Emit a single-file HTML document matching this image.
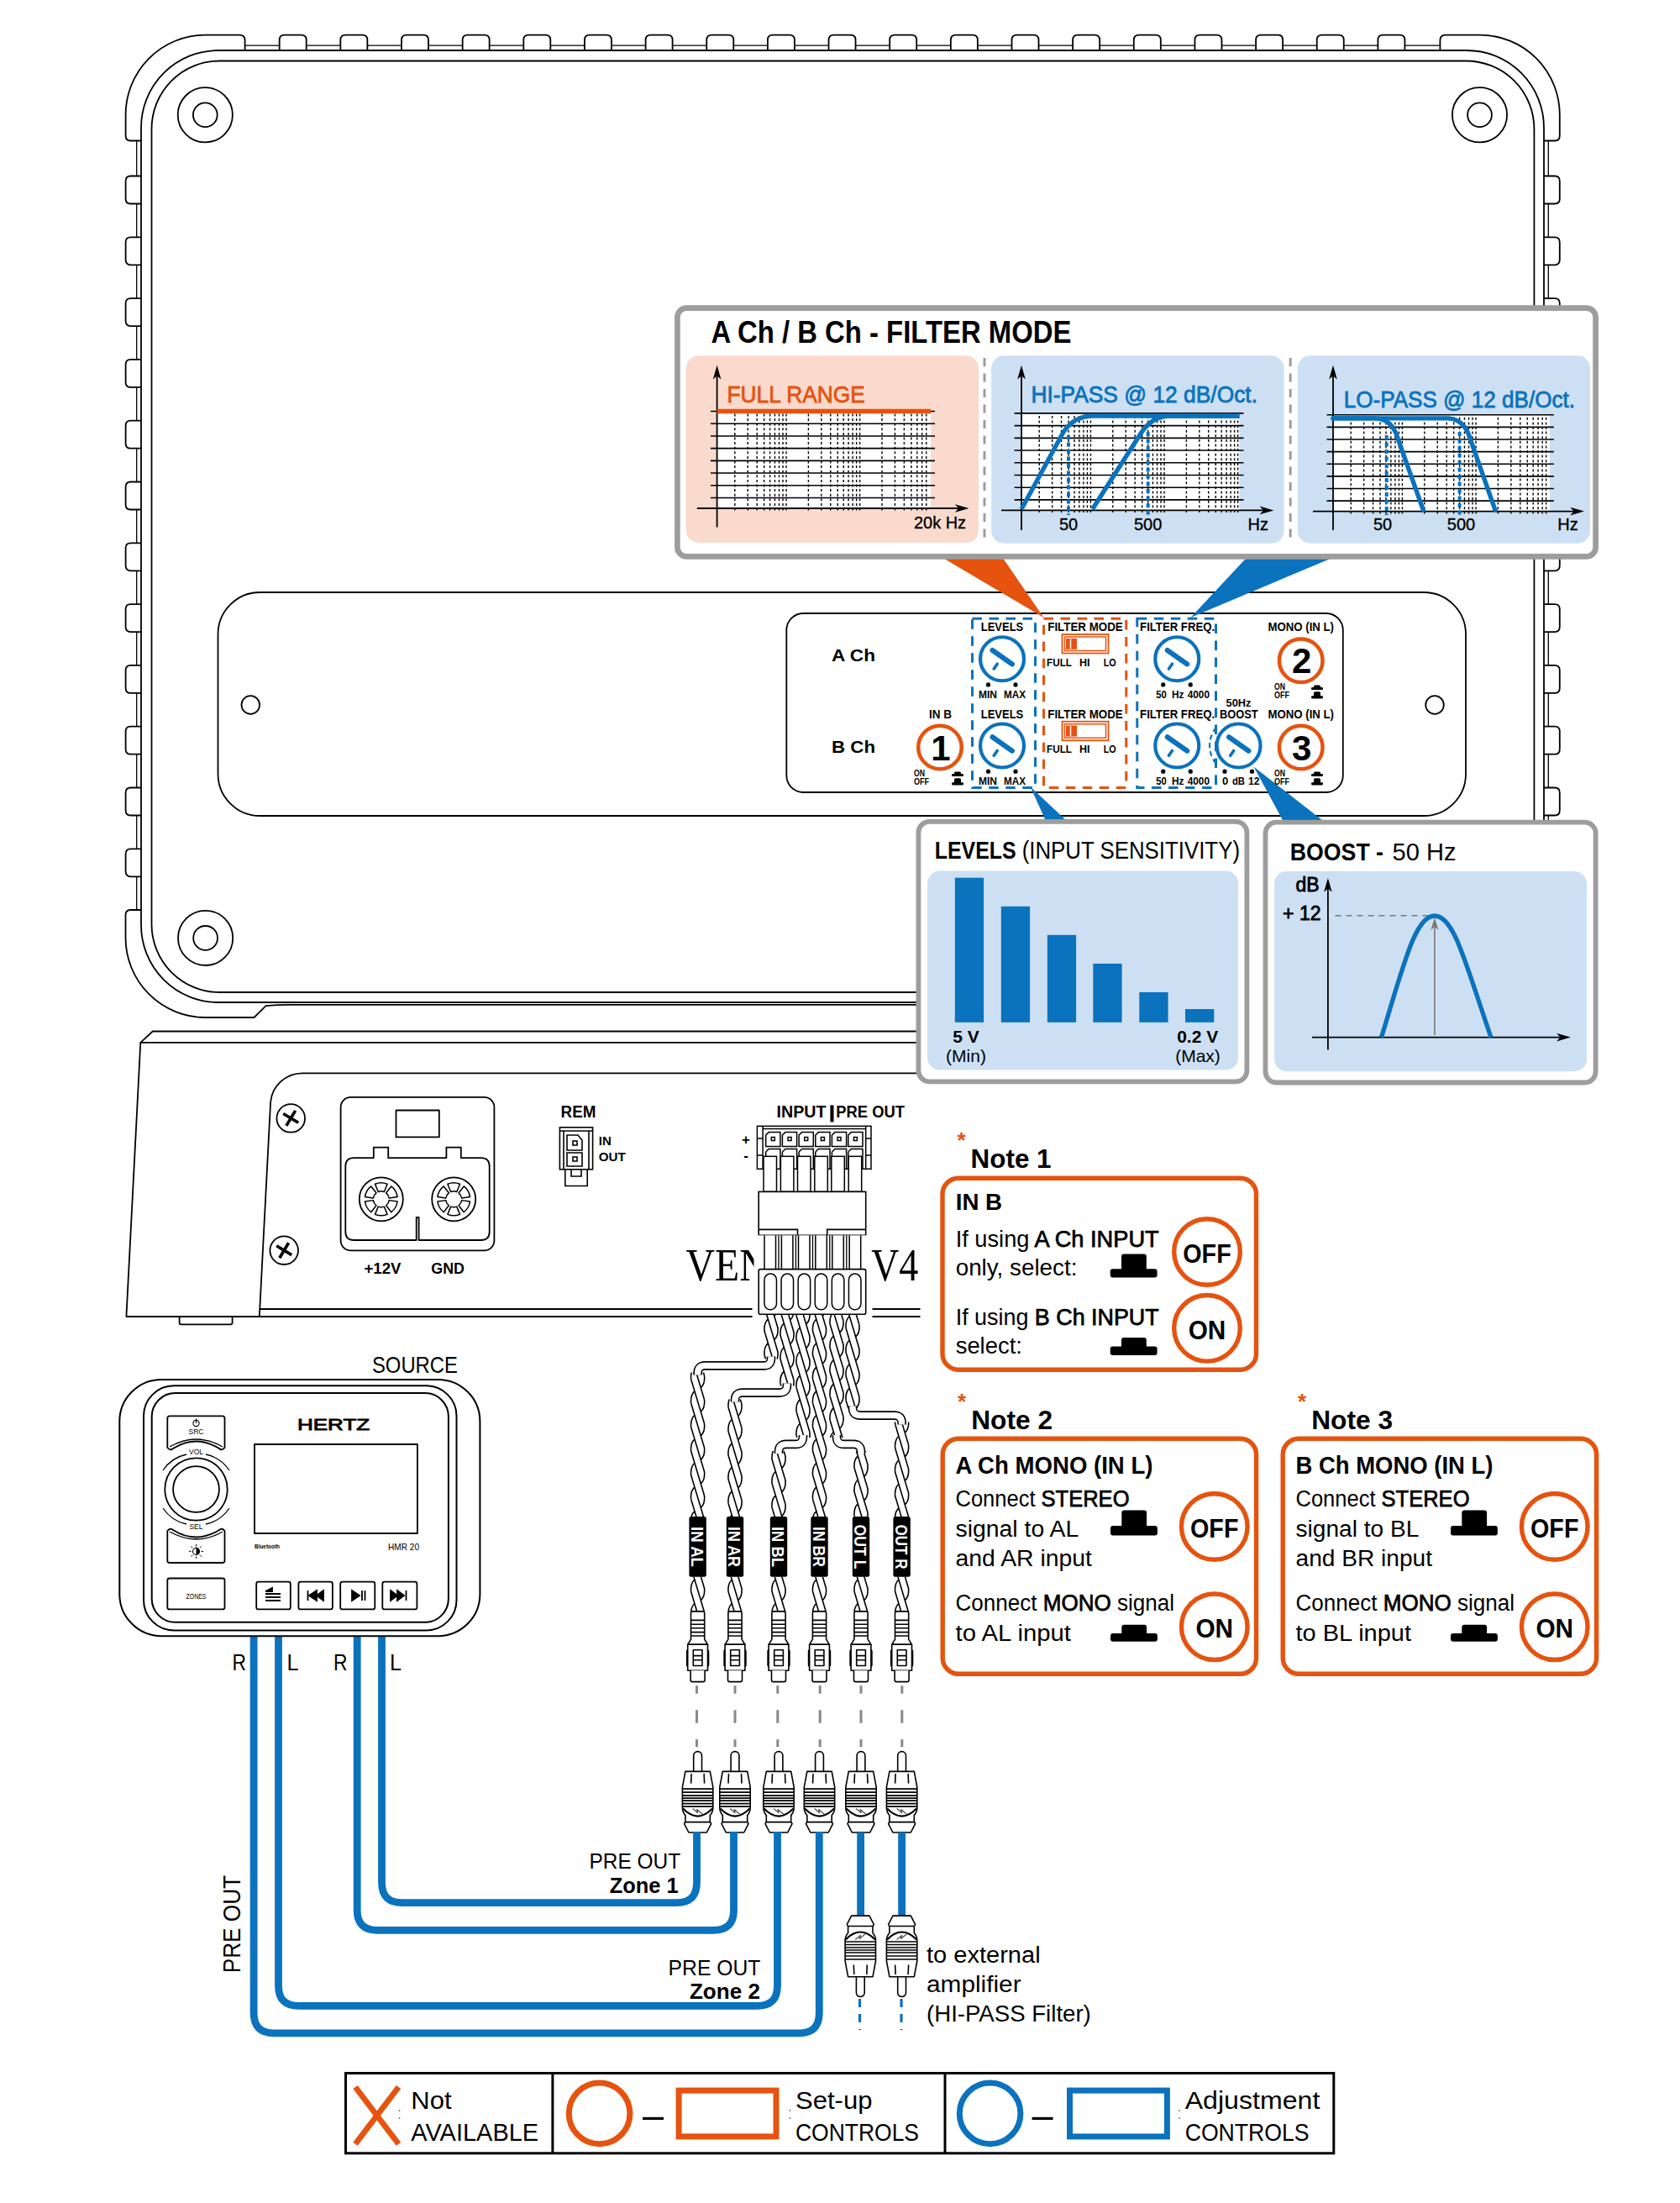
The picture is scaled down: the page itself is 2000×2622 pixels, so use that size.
<!DOCTYPE html><html><head><meta charset="utf-8"><style>html,body{margin:0;padding:0;background:#fff;}svg{display:block;}</style></head><body>
<svg width="2000" height="2622" viewBox="0 0 2000 2622" font-family='"Liberation Sans", sans-serif'>
<rect width="2000" height="2622" fill="#fff"/>
<g fill="none" stroke="#000" stroke-width="1.8" stroke-linejoin="round">
<rect x="180.5" y="72.5" width="1645.9" height="1108.5" rx="81" ry="81"/>
<path d="M168,1101 V152 A92,92 0 0 1 260,60 H1746 A92,92 0 0 1 1838,152 V1101"/>
<path d="M168,1101 A92,92 0 0 0 260,1193 H1746 A92,92 0 0 0 1838,1101"/>
<path d="M291.6,54.1 H332.7 M364.7,54.1 H405.35 M437.35,54.1 H478 M510,54.1 H550.65 M582.65,54.1 H623.3 M655.3,54.1 H695.95 M727.95,54.1 H768.6 M800.6,54.1 H841.25 M873.25,54.1 H913.9 M945.9,54.1 H986.55 M1018.55,54.1 H1059.2 M1091.2,54.1 H1131.85 M1163.85,54.1 H1204.5 M1236.5,54.1 H1277.15 M1309.15,54.1 H1349.8 M1381.8,54.1 H1422.45 M1454.45,54.1 H1495.1 M1527.1,54.1 H1567.75 M1599.75,54.1 H1640.4 M1672.4,54.1 H1714.4 M162.7,167.5 V209.5 M1843.3,167.5 V209.5 M162.7,242.5 V282.3 M1843.3,242.5 V282.3 M162.7,315.3 V355.1 M1843.3,315.3 V355.1 M162.7,388.1 V427.9 M1843.3,388.1 V427.9 M162.7,460.9 V500.7 M1843.3,460.9 V500.7 M162.7,533.7 V573.5 M1843.3,533.7 V573.5 M162.7,606.5 V646.3 M1843.3,606.5 V646.3 M162.7,679.3 V719.1 M1843.3,679.3 V719.1 M162.7,752.1 V791.9 M1843.3,752.1 V791.9 M162.7,824.9 V864.7 M1843.3,824.9 V864.7 M162.7,897.7 V937.5 M1843.3,897.7 V937.5 M162.7,970.5 V1010.3 M1843.3,970.5 V1010.3 M162.7,1043.3 V1083 M1843.3,1043.3 V1083" stroke-width="1.3"/>
</g>
<g fill="none" stroke="#000" stroke-width="1.8" stroke-linejoin="round">
<path d="M332.7,60 V47.5 Q332.7,41.6 338.7,41.6 H358.7 Q364.7,41.6 364.7,47.5 V60"/>
<path d="M405.35,60 V47.5 Q405.35,41.6 411.35,41.6 H431.35 Q437.35,41.6 437.35,47.5 V60"/>
<path d="M478,60 V47.5 Q478,41.6 484,41.6 H504 Q510,41.6 510,47.5 V60"/>
<path d="M550.65,60 V47.5 Q550.65,41.6 556.65,41.6 H576.65 Q582.65,41.6 582.65,47.5 V60"/>
<path d="M623.3,60 V47.5 Q623.3,41.6 629.3,41.6 H649.3 Q655.3,41.6 655.3,47.5 V60"/>
<path d="M695.95,60 V47.5 Q695.95,41.6 701.95,41.6 H721.95 Q727.95,41.6 727.95,47.5 V60"/>
<path d="M768.6,60 V47.5 Q768.6,41.6 774.6,41.6 H794.6 Q800.6,41.6 800.6,47.5 V60"/>
<path d="M841.25,60 V47.5 Q841.25,41.6 847.25,41.6 H867.25 Q873.25,41.6 873.25,47.5 V60"/>
<path d="M913.9,60 V47.5 Q913.9,41.6 919.9,41.6 H939.9 Q945.9,41.6 945.9,47.5 V60"/>
<path d="M986.55,60 V47.5 Q986.55,41.6 992.55,41.6 H1012.55 Q1018.55,41.6 1018.55,47.5 V60"/>
<path d="M1059.2,60 V47.5 Q1059.2,41.6 1065.2,41.6 H1085.2 Q1091.2,41.6 1091.2,47.5 V60"/>
<path d="M1131.85,60 V47.5 Q1131.85,41.6 1137.85,41.6 H1157.85 Q1163.85,41.6 1163.85,47.5 V60"/>
<path d="M1204.5,60 V47.5 Q1204.5,41.6 1210.5,41.6 H1230.5 Q1236.5,41.6 1236.5,47.5 V60"/>
<path d="M1277.15,60 V47.5 Q1277.15,41.6 1283.15,41.6 H1303.15 Q1309.15,41.6 1309.15,47.5 V60"/>
<path d="M1349.8,60 V47.5 Q1349.8,41.6 1355.8,41.6 H1375.8 Q1381.8,41.6 1381.8,47.5 V60"/>
<path d="M1422.45,60 V47.5 Q1422.45,41.6 1428.45,41.6 H1448.45 Q1454.45,41.6 1454.45,47.5 V60"/>
<path d="M1495.1,60 V47.5 Q1495.1,41.6 1501.1,41.6 H1521.1 Q1527.1,41.6 1527.1,47.5 V60"/>
<path d="M1567.75,60 V47.5 Q1567.75,41.6 1573.75,41.6 H1593.75 Q1599.75,41.6 1599.75,47.5 V60"/>
<path d="M1640.4,60 V47.5 Q1640.4,41.6 1646.4,41.6 H1666.4 Q1672.4,41.6 1672.4,47.5 V60"/>
<path d="M168,209.5 H155.5 Q149.6,209.5 149.6,215.5 V236.5 Q149.6,242.5 155.5,242.5 H168"/>
<path d="M1838,209.5 H1851 Q1856.8,209.5 1856.8,215.5 V236.5 Q1856.8,242.5 1851,242.5 H1838"/>
<path d="M168,282.3 H155.5 Q149.6,282.3 149.6,288.3 V309.3 Q149.6,315.3 155.5,315.3 H168"/>
<path d="M1838,282.3 H1851 Q1856.8,282.3 1856.8,288.3 V309.3 Q1856.8,315.3 1851,315.3 H1838"/>
<path d="M168,355.1 H155.5 Q149.6,355.1 149.6,361.1 V382.1 Q149.6,388.1 155.5,388.1 H168"/>
<path d="M1838,355.1 H1851 Q1856.8,355.1 1856.8,361.1 V382.1 Q1856.8,388.1 1851,388.1 H1838"/>
<path d="M168,427.9 H155.5 Q149.6,427.9 149.6,433.9 V454.9 Q149.6,460.9 155.5,460.9 H168"/>
<path d="M1838,427.9 H1851 Q1856.8,427.9 1856.8,433.9 V454.9 Q1856.8,460.9 1851,460.9 H1838"/>
<path d="M168,500.7 H155.5 Q149.6,500.7 149.6,506.7 V527.7 Q149.6,533.7 155.5,533.7 H168"/>
<path d="M1838,500.7 H1851 Q1856.8,500.7 1856.8,506.7 V527.7 Q1856.8,533.7 1851,533.7 H1838"/>
<path d="M168,573.5 H155.5 Q149.6,573.5 149.6,579.5 V600.5 Q149.6,606.5 155.5,606.5 H168"/>
<path d="M1838,573.5 H1851 Q1856.8,573.5 1856.8,579.5 V600.5 Q1856.8,606.5 1851,606.5 H1838"/>
<path d="M168,646.3 H155.5 Q149.6,646.3 149.6,652.3 V673.3 Q149.6,679.3 155.5,679.3 H168"/>
<path d="M1838,646.3 H1851 Q1856.8,646.3 1856.8,652.3 V673.3 Q1856.8,679.3 1851,679.3 H1838"/>
<path d="M168,719.1 H155.5 Q149.6,719.1 149.6,725.1 V746.1 Q149.6,752.1 155.5,752.1 H168"/>
<path d="M1838,719.1 H1851 Q1856.8,719.1 1856.8,725.1 V746.1 Q1856.8,752.1 1851,752.1 H1838"/>
<path d="M168,791.9 H155.5 Q149.6,791.9 149.6,797.9 V818.9 Q149.6,824.9 155.5,824.9 H168"/>
<path d="M1838,791.9 H1851 Q1856.8,791.9 1856.8,797.9 V818.9 Q1856.8,824.9 1851,824.9 H1838"/>
<path d="M168,864.7 H155.5 Q149.6,864.7 149.6,870.7 V891.7 Q149.6,897.7 155.5,897.7 H168"/>
<path d="M1838,864.7 H1851 Q1856.8,864.7 1856.8,870.7 V891.7 Q1856.8,897.7 1851,897.7 H1838"/>
<path d="M168,937.5 H155.5 Q149.6,937.5 149.6,943.5 V964.5 Q149.6,970.5 155.5,970.5 H168"/>
<path d="M1838,937.5 H1851 Q1856.8,937.5 1856.8,943.5 V964.5 Q1856.8,970.5 1851,970.5 H1838"/>
<path d="M168,1010.3 H155.5 Q149.6,1010.3 149.6,1016.3 V1037.3 Q149.6,1043.3 155.5,1043.3 H168"/>
<path d="M1838,1010.3 H1851 Q1856.8,1010.3 1856.8,1016.3 V1037.3 Q1856.8,1043.3 1851,1043.3 H1838"/>
<path d="M291.6,60 V48 Q291.6,41.6 285,41.6 H244 A95,95 0 0 0 149.6,137 V161.5 Q149.6,167.5 155.5,167.5 H168"/>
<path d="M1714.4,60 V48 Q1714.4,41.6 1721,41.6 H1762 A95,95 0 0 1 1856.8,137 V161.5 Q1856.8,167.5 1851,167.5 H1838"/>
</g>
<g fill="none" stroke="#000" stroke-width="1.8" stroke-linejoin="round">
<path d="M168,1083 H155.5 Q149.5,1083 149.5,1089 V1116 A95,95 0 0 0 244.5,1211 H302.5 L316.5,1197.2 Q330,1195.8 345,1195.8 H1746"/>
<path d="M1838,1083 H1851 Q1857,1083 1857,1089 V1116 A95,95 0 0 1 1762,1211 H1703.5 L1689.5,1197.2 Q1676,1195.8 1661,1195.8 H1300"/>
</g>
<circle cx="244.3" cy="136.8" r="32.6" fill="none" stroke="#000" stroke-width="1.8"/>
<circle cx="244.3" cy="136.8" r="14.4" fill="none" stroke="#000" stroke-width="1.8"/>
<circle cx="1761.5" cy="136.8" r="32.6" fill="none" stroke="#000" stroke-width="1.8"/>
<circle cx="1761.5" cy="136.8" r="14.4" fill="none" stroke="#000" stroke-width="1.8"/>
<circle cx="244.6" cy="1116.4" r="32.6" fill="none" stroke="#000" stroke-width="1.8"/>
<circle cx="244.6" cy="1116.4" r="14.4" fill="none" stroke="#000" stroke-width="1.8"/>
<rect x="259.5" y="705" width="1485.5" height="266" rx="50" ry="50" fill="none" stroke="#000" stroke-width="1.8"/>
<circle cx="298.3" cy="839" r="10.8" fill="none" stroke="#000" stroke-width="1.8"/>
<circle cx="1708" cy="839" r="10.8" fill="none" stroke="#000" stroke-width="1.8"/>
<rect x="936.3" y="730" width="662.5" height="213" rx="20" ry="20" fill="none" stroke="#000" stroke-width="1.8"/>
<g fill="none" stroke="#000" stroke-width="1.8" stroke-linejoin="round">
<path d="M1096,1227.5 H181.8 L167.3,1240.8 H1096"/>
<path d="M167.3,1240.8 L150.4,1567 H895.5 M1038.5,1567 H1095.5"/>
<path d="M213.6,1567 V1574 Q213.6,1576.4 216,1576.4 H274.2 Q276.6,1576.4 276.6,1574 V1567"/>
<path d="M1096,1277.3 H360 A38,38 0 0 0 322.1,1311.8 L308.8,1567 M309.2,1558 H895.5 M1038.5,1558 H1095.5"/>
</g>
<circle cx="346.25" cy="1330.9" r="16.8" fill="#fff" stroke="#000" stroke-width="1.8"/>
<g transform="translate(346.25,1330.9) rotate(31)"><path d="M-10.5,0 H10.5 M0,-10.5 V10.5" stroke="#000" stroke-width="3.6"/></g>
<circle cx="338.2" cy="1488.2" r="16.8" fill="#fff" stroke="#000" stroke-width="1.8"/>
<g transform="translate(338.2,1488.2) rotate(31)"><path d="M-10.5,0 H10.5 M0,-10.5 V10.5" stroke="#000" stroke-width="3.6"/></g>
<g fill="none" stroke="#000" stroke-width="1.8" stroke-linejoin="round">
<rect x="405.6" y="1305.9" width="182.8" height="182.5" rx="12" ry="12"/>
<rect x="471.5" y="1321.5" width="51.3" height="31.9"/>
<path d="M444.8,1378.2 V1365.6 H462.2 V1378.2 H531.4 V1365.6 H548.8 V1378.2 H572.7 Q582.7,1378.2 582.7,1388.2 V1466 Q582.7,1476 572.7,1476 H498.6 V1448.8 H495.7 V1476 H421.3 Q411.3,1476 411.3,1466 V1388.2 Q411.3,1378.2 421.3,1378.2 Z"/>
<circle cx="453.8" cy="1427.3" r="26"/>
<path d="M473.11,1430.01 A19.5,19.5 0 0 1 465.81,1442.67 L459.65,1434.79 A9.5,9.5 0 0 0 463.21,1428.62 Z" stroke-width="1.5"/>
<path d="M461.1,1445.38 A19.5,19.5 0 0 1 446.5,1445.38 L450.24,1436.11 A9.5,9.5 0 0 0 457.36,1436.11 Z" stroke-width="1.5"/>
<path d="M441.79,1442.67 A19.5,19.5 0 0 1 434.49,1430.01 L444.39,1428.62 A9.5,9.5 0 0 0 447.95,1434.79 Z" stroke-width="1.5"/>
<path d="M434.49,1424.59 A19.5,19.5 0 0 1 441.79,1411.93 L447.95,1419.81 A9.5,9.5 0 0 0 444.39,1425.98 Z" stroke-width="1.5"/>
<path d="M446.5,1409.22 A19.5,19.5 0 0 1 461.1,1409.22 L457.36,1418.49 A9.5,9.5 0 0 0 450.24,1418.49 Z" stroke-width="1.5"/>
<path d="M465.81,1411.93 A19.5,19.5 0 0 1 473.11,1424.59 L463.21,1425.98 A9.5,9.5 0 0 0 459.65,1419.81 Z" stroke-width="1.5"/>
<circle cx="540.2" cy="1427.3" r="26"/>
<path d="M559.51,1430.01 A19.5,19.5 0 0 1 552.21,1442.67 L546.05,1434.79 A9.5,9.5 0 0 0 549.61,1428.62 Z" stroke-width="1.5"/>
<path d="M547.5,1445.38 A19.5,19.5 0 0 1 532.9,1445.38 L536.64,1436.11 A9.5,9.5 0 0 0 543.76,1436.11 Z" stroke-width="1.5"/>
<path d="M528.19,1442.67 A19.5,19.5 0 0 1 520.89,1430.01 L530.79,1428.62 A9.5,9.5 0 0 0 534.35,1434.79 Z" stroke-width="1.5"/>
<path d="M520.89,1424.59 A19.5,19.5 0 0 1 528.19,1411.93 L534.35,1419.81 A9.5,9.5 0 0 0 530.79,1425.98 Z" stroke-width="1.5"/>
<path d="M532.9,1409.22 A19.5,19.5 0 0 1 547.5,1409.22 L543.76,1418.49 A9.5,9.5 0 0 0 536.64,1418.49 Z" stroke-width="1.5"/>
<path d="M552.21,1411.93 A19.5,19.5 0 0 1 559.51,1424.59 L549.61,1425.98 A9.5,9.5 0 0 0 546.05,1419.81 Z" stroke-width="1.5"/>
</g>
<text x="433.5" y="1515.5" font-size="17.5" font-weight="bold" text-anchor="start" fill="#000" textLength="44" lengthAdjust="spacingAndGlyphs" >+12V</text>
<text x="513.3" y="1515.5" font-size="17.5" font-weight="bold" text-anchor="start" fill="#000" textLength="39.6" lengthAdjust="spacingAndGlyphs" >GND</text>
<text x="667.6" y="1330" font-size="20" font-weight="bold" text-anchor="start" fill="#000" textLength="41.8" lengthAdjust="spacingAndGlyphs" >REM</text>
<g fill="none" stroke="#000" stroke-width="1.6">
<rect x="666.4" y="1341.8" width="39.2" height="50"/>
<path d="M666.4,1346 H705.6 M671,1346 V1391.8 M701,1346 V1391.8"/>
<path d="M675,1351 H688 L693,1357 V1369 H675 Z M675,1372 H693 V1388 H675 Z"/>
<rect x="682" y="1358" width="5" height="5"/><rect x="682" y="1377" width="5" height="5"/>
<path d="M672.8,1391.8 V1411.5 H699.2 V1391.8 M680,1391.8 V1400 H692 V1391.8"/>
</g>
<text x="712.8" y="1362.9" font-size="15" font-weight="bold" text-anchor="start" fill="#000" >IN</text>
<text x="712.8" y="1382" font-size="15" font-weight="bold" text-anchor="start" fill="#000" textLength="32" lengthAdjust="spacingAndGlyphs" >OUT</text>
<text x="816.6" y="1524" font-family="'Liberation Serif', serif" font-size="54" fill="#000" textLength="98" lengthAdjust="spacingAndGlyphs">VEN</text>
<text x="1037.1" y="1524" font-family="'Liberation Serif', serif" font-size="54" fill="#000" textLength="56.3" lengthAdjust="spacingAndGlyphs">V4</text>
<rect x="1482" y="976" width="26" height="318" fill="#fff"/>
<path d="M1122.5,664 L1193.75,664 L1242.5,735 Z" fill="#e5530f"/>
<path d="M1483.75,664 L1586,664 L1417.5,735 Z" fill="#0b72bd"/>
<path d="M1226.7,936.5 L1245,977 L1270,977 Z" fill="#0b72bd"/>
<path d="M1492.5,912.5 L1528,978 L1576.4,978 Z" fill="#0b72bd"/>
<rect x="806.4" y="366.6" width="1093.2" height="295.8" rx="11" ry="11" fill="#fff" stroke="#9d9d9d" stroke-width="6.7"/>
<text x="846.4" y="407.9" font-size="37.7" font-weight="bold" text-anchor="start" fill="#000" textLength="429" lengthAdjust="spacingAndGlyphs" >A Ch / B Ch - FILTER MODE</text>
<rect x="816.7" y="423.3" width="348.3" height="222.7" rx="15" ry="15" fill="#f9dacc"/>
<rect x="1180.2" y="423.3" width="348.4" height="223.4" rx="15" ry="15" fill="#cde0f3"/>
<rect x="1544.8" y="423.3" width="348.2" height="223.4" rx="15" ry="15" fill="#cde0f3"/>
<path d="M1172,426 V646" stroke="#9d9d9d" stroke-width="3" stroke-dasharray="10,8.5"/>
<path d="M1536.2,426 V646" stroke="#9d9d9d" stroke-width="3" stroke-dasharray="10,8.5"/>
<rect x="853.6" y="489.5" width="254.4" height="115.5" fill="#fff"/>
<path d="M874.8,492.5 V608 M890.23,492.5 V608 M901.17,492.5 V608 M909.66,492.5 V608 M916.6,492.5 V608 M922.46,492.5 V608 M927.54,492.5 V608 M932.02,492.5 V608 M936.03,492.5 V608 M962.4,492.5 V608 M977.83,492.5 V608 M988.77,492.5 V608 M997.26,492.5 V608 M1004.2,492.5 V608 M1010.06,492.5 V608 M1015.14,492.5 V608 M1019.62,492.5 V608 M1023.63,492.5 V608 M1050,492.5 V608 M1065.43,492.5 V608 M1076.37,492.5 V608 M1084.86,492.5 V608 M1091.8,492.5 V608 M1097.66,492.5 V608 M1102.74,492.5 V608 " stroke="#000" stroke-width="1.4" stroke-dasharray="3,2.6"/>
<path d="M846,489.5 H1113 M846,504.21 H1113 M846,518.93 H1113 M846,533.64 H1113 M846,548.35 H1113 M846,563.07 H1113 M846,577.78 H1113 M846,592.49 H1113 " stroke="#000" stroke-width="1.6"/>
<path d="M829.8,605 H1143.6 M853.6,627.6 V444.8" stroke="#000" stroke-width="1.8" fill="none"/>
<path d="M853.6,434.8 L858.4,451.5 L853.6,447.3 L848.8,451.5 Z" fill="#000"/>
<path d="M1153.6,605 L1136.9,600.2 L1141.1,605 L1136.9,609.8 Z" fill="#000"/>
<path d="M853.6,489.5 H1108" stroke="#e5530f" stroke-width="5.5"/>
<text x="865.5" y="478.8" font-size="28" stroke="#e5530f" stroke-width="0.8" text-anchor="start" fill="#e5530f" textLength="164.3" lengthAdjust="spacingAndGlyphs" >FULL RANGE</text>
<text x="1088" y="629.3" font-size="20" stroke="#000" stroke-width="0.35" text-anchor="start" fill="#000" textLength="62" lengthAdjust="spacingAndGlyphs" >20k Hz</text>
<rect x="1216" y="491.9" width="259.5" height="115.5" fill="#fff"/>
<path d="M1237.2,494.9 V610.4 M1252.63,494.9 V610.4 M1263.57,494.9 V610.4 M1272.06,494.9 V610.4 M1279,494.9 V610.4 M1284.86,494.9 V610.4 M1289.94,494.9 V610.4 M1294.42,494.9 V610.4 M1298.43,494.9 V610.4 M1324.8,494.9 V610.4 M1340.23,494.9 V610.4 M1351.17,494.9 V610.4 M1359.66,494.9 V610.4 M1366.6,494.9 V610.4 M1372.46,494.9 V610.4 M1377.54,494.9 V610.4 M1382.02,494.9 V610.4 M1386.03,494.9 V610.4 M1412.4,494.9 V610.4 M1427.83,494.9 V610.4 M1438.77,494.9 V610.4 M1447.26,494.9 V610.4 M1454.2,494.9 V610.4 M1460.06,494.9 V610.4 M1465.14,494.9 V610.4 M1469.62,494.9 V610.4 M1473.63,494.9 V610.4 " stroke="#000" stroke-width="1.4" stroke-dasharray="3,2.6"/>
<path d="M1207.6,491.9 H1480.5 M1207.6,506.61 H1480.5 M1207.6,521.33 H1480.5 M1207.6,536.04 H1480.5 M1207.6,550.75 H1480.5 M1207.6,565.47 H1480.5 M1207.6,580.18 H1480.5 M1207.6,594.89 H1480.5 " stroke="#000" stroke-width="1.6"/>
<path d="M1192,607.4 H1506.4 M1216,631 V444.8" stroke="#000" stroke-width="1.8" fill="none"/>
<path d="M1216,434.8 L1220.8,451.5 L1216,447.3 L1211.2,451.5 Z" fill="#000"/>
<path d="M1516.4,607.4 L1499.7,602.6 L1503.9,607.4 L1499.7,612.2 Z" fill="#000"/>
<path d="M1272,518 V613 M1366.7,514 V613" stroke="#0b72bd" stroke-width="4" stroke-dasharray="5,3.5"/>
<path d="M1216,606 L1265,516 Q1276,497 1298,495 H1475.5" fill="none" stroke="#0b72bd" stroke-width="5.3"/>
<path d="M1300.5,606 L1358,516 Q1370,497 1390,495 H1475.5" fill="none" stroke="#0b72bd" stroke-width="5.3"/>
<text x="1227.4" y="479.3" font-size="27" stroke="#0b72bd" stroke-width="0.8" text-anchor="start" fill="#0b72bd" textLength="269.6" lengthAdjust="spacingAndGlyphs" >HI-PASS @ 12 dB/Oct.</text>
<text x="1272" y="631" font-size="20" stroke="#000" stroke-width="0.35" text-anchor="middle" fill="#000" >50</text>
<text x="1366.7" y="631" font-size="20" stroke="#000" stroke-width="0.35" text-anchor="middle" fill="#000" >500</text>
<text x="1510" y="631" font-size="20" stroke="#000" stroke-width="0.35" text-anchor="end" fill="#000" >Hz</text>
<rect x="1587" y="493.8" width="257.8" height="114.8" fill="#fff"/>
<path d="M1608.2,496.8 V611.6 M1623.63,496.8 V611.6 M1634.57,496.8 V611.6 M1643.06,496.8 V611.6 M1650,496.8 V611.6 M1655.86,496.8 V611.6 M1660.94,496.8 V611.6 M1665.42,496.8 V611.6 M1669.43,496.8 V611.6 M1695.8,496.8 V611.6 M1711.23,496.8 V611.6 M1722.17,496.8 V611.6 M1730.66,496.8 V611.6 M1737.6,496.8 V611.6 M1743.46,496.8 V611.6 M1748.54,496.8 V611.6 M1753.02,496.8 V611.6 M1757.03,496.8 V611.6 M1783.4,496.8 V611.6 M1798.83,496.8 V611.6 M1809.77,496.8 V611.6 M1818.26,496.8 V611.6 M1825.2,496.8 V611.6 M1831.06,496.8 V611.6 M1836.14,496.8 V611.6 M1840.62,496.8 V611.6 " stroke="#000" stroke-width="1.4" stroke-dasharray="3,2.6"/>
<path d="M1579.5,493.8 H1849.8 M1579.5,508.42 H1849.8 M1579.5,523.05 H1849.8 M1579.5,537.67 H1849.8 M1579.5,552.3 H1849.8 M1579.5,566.92 H1849.8 M1579.5,581.55 H1849.8 M1579.5,596.17 H1849.8 " stroke="#000" stroke-width="1.6"/>
<path d="M1563,608.6 H1876 M1587,631 V444.8" stroke="#000" stroke-width="1.8" fill="none"/>
<path d="M1587,434.8 L1591.8,451.5 L1587,447.3 L1582.2,451.5 Z" fill="#000"/>
<path d="M1886,608.6 L1869.3,603.8 L1873.5,608.6 L1869.3,613.4 Z" fill="#000"/>
<path d="M1650.7,518 V613 M1737.6,514 V613" stroke="#0b72bd" stroke-width="4" stroke-dasharray="5,3.5"/>
<path d="M1587,497.9 H1638 Q1655,499 1662,516 L1694.3,607" fill="none" stroke="#0b72bd" stroke-width="5.3" stroke-linecap="round"/>
<path d="M1587,497.9 H1724 Q1741,499 1748,516 L1780,607" fill="none" stroke="#0b72bd" stroke-width="5.3" stroke-linecap="round"/>
<text x="1599.8" y="484.8" font-size="27" stroke="#0b72bd" stroke-width="0.8" text-anchor="start" fill="#0b72bd" textLength="275.2" lengthAdjust="spacingAndGlyphs" >LO-PASS @ 12 dB/Oct.</text>
<text x="1646" y="631" font-size="20" stroke="#000" stroke-width="0.35" text-anchor="middle" fill="#000" >50</text>
<text x="1739.5" y="631" font-size="20" stroke="#000" stroke-width="0.35" text-anchor="middle" fill="#000" >500</text>
<text x="1878.8" y="631" font-size="20" stroke="#000" stroke-width="0.35" text-anchor="end" fill="#000" >Hz</text>
<rect x="1093.4" y="977.9" width="391" height="309.4" rx="13" ry="13" fill="#fff" stroke="#9d9d9d" stroke-width="5.8"/>
<rect x="1104" y="1036.6" width="370.2" height="237" rx="15" ry="15" fill="#cde0f3"/>
<text x="1112.7" y="1022" font-size="29" font-weight="bold" text-anchor="start" fill="#000" textLength="96.9" lengthAdjust="spacingAndGlyphs" >LEVELS</text>
<text x="1216.7" y="1022" font-size="29" text-anchor="start" fill="#000" textLength="259.3" lengthAdjust="spacingAndGlyphs" >(INPUT SENSITIVITY)</text>
<rect x="1136.8" y="1044.7" width="34.3" height="172.1" fill="#0b72bd"/>
<rect x="1191.8" y="1078.8" width="34.3" height="138" fill="#0b72bd"/>
<rect x="1246.8" y="1112.8" width="34.3" height="104" fill="#0b72bd"/>
<rect x="1301.3" y="1146.9" width="34.3" height="69.9" fill="#0b72bd"/>
<rect x="1356.3" y="1180.9" width="34.3" height="35.9" fill="#0b72bd"/>
<rect x="1411" y="1201" width="34.3" height="15.8" fill="#0b72bd"/>
<text x="1150" y="1241" font-size="21" font-weight="bold" text-anchor="middle" fill="#000" >5 V</text>
<text x="1150" y="1264" font-size="21" text-anchor="middle" fill="#000" >(Min)</text>
<text x="1425.7" y="1241" font-size="21" font-weight="bold" text-anchor="middle" fill="#000" >0.2 V</text>
<text x="1426" y="1264" font-size="21" text-anchor="middle" fill="#000" >(Max)</text>
<rect x="1506.5" y="978.7" width="393.1" height="309.8" rx="13" ry="13" fill="#fff" stroke="#9d9d9d" stroke-width="5.8"/>
<rect x="1517" y="1036.9" width="372" height="238.3" rx="15" ry="15" fill="#cde0f3"/>
<text x="1535.8" y="1023.5" font-size="29" font-weight="bold" text-anchor="start" fill="#000" textLength="111.2" lengthAdjust="spacingAndGlyphs" >BOOST -</text>
<text x="1657.6" y="1023.5" font-size="29" text-anchor="start" fill="#000" textLength="76" lengthAdjust="spacingAndGlyphs" >50 Hz</text>
<path d="M1562,1234.6 H1860 M1580.9,1249.5 V1055" stroke="#000" stroke-width="1.8" fill="none"/>
<path d="M1580.9,1045 L1585.7,1061.7 L1580.9,1057.5 L1576.1,1061.7 Z" fill="#000"/>
<path d="M1869.8,1234.6 L1853.1,1229.8 L1857.3,1234.6 L1853.1,1239.4 Z" fill="#000"/>
<path d="M1589.5,1089.8 H1707" stroke="#777" stroke-width="1.6" stroke-dasharray="7,6"/>
<path d="M1707.9,1232 V1100" stroke="#777" stroke-width="1.6"/>
<path d="M1707.9,1092 L1712.4,1107 L1707.9,1103 L1703.4,1107 Z" fill="#777"/>
<path d="M1644.5,1234.6 C1672,1145 1685,1090 1707.9,1090 C1731,1090 1744,1145 1775,1234.6" fill="none" stroke="#0b72bd" stroke-width="5.3"/>
<text x="1570.7" y="1061" font-size="23" stroke="#000" stroke-width="0.8" text-anchor="end" fill="#000" >dB</text>
<text x="1572.5" y="1095" font-size="23" stroke="#000" stroke-width="0.8" text-anchor="end" fill="#000" >+ 12</text>
<text x="990" y="787" font-size="20.5" font-weight="bold" text-anchor="start" fill="#000" textLength="52" lengthAdjust="spacingAndGlyphs" >A Ch</text>
<text x="990" y="896" font-size="20.5" font-weight="bold" text-anchor="start" fill="#000" textLength="52" lengthAdjust="spacingAndGlyphs" >B Ch</text>
<rect x="1157.5" y="736.25" width="75" height="201.25" fill="none" stroke="#0b72bd" stroke-width="3" stroke-dasharray="11.5,8.5"/>
<rect x="1242.5" y="736.25" width="98.25" height="201.25" fill="none" stroke="#e5530f" stroke-width="3" stroke-dasharray="11.5,8.5"/>
<rect x="1353.75" y="736.25" width="93.75" height="201.25" fill="none" stroke="#0b72bd" stroke-width="3" stroke-dasharray="11.5,8.5"/>
<text x="1193" y="751" font-size="14" font-weight="bold" text-anchor="middle" fill="#000" textLength="50.5" lengthAdjust="spacingAndGlyphs" >LEVELS</text>
<circle cx="1193" cy="784.25" r="26" fill="#fff" stroke="#0b72bd" stroke-width="4.2"/>
<path d="M1181.5,773.95 L1205,790.45" stroke="#0b72bd" stroke-width="6" stroke-linecap="round"/>
<path d="M1183.2,796.05 L1187.2,790.25" stroke="#0b72bd" stroke-width="3.6" stroke-linecap="round"/>
<circle cx="1176.5" cy="814.95" r="2.6"/><circle cx="1209" cy="814.95" r="2.6"/>
<text x="1165" y="830.75" font-size="13.5" font-weight="bold" text-anchor="start" fill="#000" textLength="22" lengthAdjust="spacingAndGlyphs" >MIN</text>
<text x="1195" y="830.75" font-size="13.5" font-weight="bold" text-anchor="start" fill="#000" textLength="26" lengthAdjust="spacingAndGlyphs" >MAX</text>
<text x="1193" y="854.5" font-size="14" font-weight="bold" text-anchor="middle" fill="#000" textLength="50.5" lengthAdjust="spacingAndGlyphs" >LEVELS</text>
<circle cx="1193" cy="887.5" r="26" fill="#fff" stroke="#0b72bd" stroke-width="4.2"/>
<path d="M1181.5,877.2 L1205,893.7" stroke="#0b72bd" stroke-width="6" stroke-linecap="round"/>
<path d="M1183.2,899.3 L1187.2,893.5" stroke="#0b72bd" stroke-width="3.6" stroke-linecap="round"/>
<circle cx="1176.5" cy="918.2" r="2.6"/><circle cx="1209" cy="918.2" r="2.6"/>
<text x="1165" y="934" font-size="13.5" font-weight="bold" text-anchor="start" fill="#000" textLength="22" lengthAdjust="spacingAndGlyphs" >MIN</text>
<text x="1195" y="934" font-size="13.5" font-weight="bold" text-anchor="start" fill="#000" textLength="26" lengthAdjust="spacingAndGlyphs" >MAX</text>
<text x="1292" y="751" font-size="14" font-weight="bold" text-anchor="middle" fill="#000" textLength="89.5" lengthAdjust="spacingAndGlyphs" >FILTER MODE</text>
<rect x="1264.5" y="755" width="55" height="22.5" fill="#fff" stroke="#e5530f" stroke-width="1.8"/>
<rect x="1267.5" y="758" width="49" height="16.5" fill="none" stroke="#e5530f" stroke-width="1.5"/>
<rect x="1269" y="759.8" width="13" height="13" fill="#e5530f"/>
<path d="M1274.5,760.5 V772" stroke="#fff" stroke-width="1.5"/>
<text x="1246" y="792.5" font-size="13.5" font-weight="bold" text-anchor="start" fill="#000" textLength="30" lengthAdjust="spacingAndGlyphs" >FULL</text>
<text x="1285" y="792.5" font-size="13.5" font-weight="bold" text-anchor="start" fill="#000" textLength="12.5" lengthAdjust="spacingAndGlyphs" >HI</text>
<text x="1313.75" y="792.5" font-size="13.5" font-weight="bold" text-anchor="start" fill="#000" textLength="15" lengthAdjust="spacingAndGlyphs" >LO</text>
<text x="1292" y="854.5" font-size="14" font-weight="bold" text-anchor="middle" fill="#000" textLength="89.5" lengthAdjust="spacingAndGlyphs" >FILTER MODE</text>
<rect x="1264.5" y="858.75" width="55" height="22.5" fill="#fff" stroke="#e5530f" stroke-width="1.8"/>
<rect x="1267.5" y="861.75" width="49" height="16.5" fill="none" stroke="#e5530f" stroke-width="1.5"/>
<rect x="1269" y="863.55" width="13" height="13" fill="#e5530f"/>
<path d="M1274.5,864.25 V875.75" stroke="#fff" stroke-width="1.5"/>
<text x="1246" y="896.25" font-size="13.5" font-weight="bold" text-anchor="start" fill="#000" textLength="30" lengthAdjust="spacingAndGlyphs" >FULL</text>
<text x="1285" y="896.25" font-size="13.5" font-weight="bold" text-anchor="start" fill="#000" textLength="12.5" lengthAdjust="spacingAndGlyphs" >HI</text>
<text x="1313.75" y="896.25" font-size="13.5" font-weight="bold" text-anchor="start" fill="#000" textLength="15" lengthAdjust="spacingAndGlyphs" >LO</text>
<text x="1401.6" y="751" font-size="14" font-weight="bold" text-anchor="middle" fill="#000" textLength="89" lengthAdjust="spacingAndGlyphs" >FILTER FREQ.</text>
<circle cx="1401.25" cy="784.25" r="26" fill="#fff" stroke="#0b72bd" stroke-width="4.2"/>
<path d="M1389.75,773.95 L1413.25,790.45" stroke="#0b72bd" stroke-width="6" stroke-linecap="round"/>
<path d="M1391.45,796.05 L1395.45,790.25" stroke="#0b72bd" stroke-width="3.6" stroke-linecap="round"/>
<circle cx="1384.75" cy="814.95" r="2.6"/><circle cx="1417.25" cy="814.95" r="2.6"/>
<text x="1376.25" y="830.75" font-size="13" font-weight="bold" text-anchor="start" fill="#000" textLength="12.5" lengthAdjust="spacingAndGlyphs" >50</text>
<text x="1395" y="830.75" font-size="13" font-weight="bold" text-anchor="start" fill="#000" textLength="14.5" lengthAdjust="spacingAndGlyphs" >Hz</text>
<text x="1413.75" y="830.75" font-size="13" font-weight="bold" text-anchor="start" fill="#000" textLength="26.25" lengthAdjust="spacingAndGlyphs" >4000</text>
<text x="1401.6" y="854.5" font-size="14" font-weight="bold" text-anchor="middle" fill="#000" textLength="89" lengthAdjust="spacingAndGlyphs" >FILTER FREQ.</text>
<circle cx="1401.25" cy="887.5" r="26" fill="#fff" stroke="#0b72bd" stroke-width="4.2"/>
<path d="M1389.75,877.2 L1413.25,893.7" stroke="#0b72bd" stroke-width="6" stroke-linecap="round"/>
<path d="M1391.45,899.3 L1395.45,893.5" stroke="#0b72bd" stroke-width="3.6" stroke-linecap="round"/>
<circle cx="1384.75" cy="918.2" r="2.6"/><circle cx="1417.25" cy="918.2" r="2.6"/>
<text x="1376.25" y="934" font-size="13" font-weight="bold" text-anchor="start" fill="#000" textLength="12.5" lengthAdjust="spacingAndGlyphs" >50</text>
<text x="1395" y="934" font-size="13" font-weight="bold" text-anchor="start" fill="#000" textLength="14.5" lengthAdjust="spacingAndGlyphs" >Hz</text>
<text x="1413.75" y="934" font-size="13" font-weight="bold" text-anchor="start" fill="#000" textLength="26.25" lengthAdjust="spacingAndGlyphs" >4000</text>
<text x="1474.5" y="841" font-size="13.5" font-weight="bold" text-anchor="middle" fill="#000" textLength="30" lengthAdjust="spacingAndGlyphs" >50Hz</text>
<text x="1474.75" y="854.5" font-size="14" font-weight="bold" text-anchor="middle" fill="#000" textLength="45.5" lengthAdjust="spacingAndGlyphs" >BOOST</text>
<path d="M1448,866 A33,33 0 0 0 1448,909" fill="none" stroke="#0b72bd" stroke-width="2.2" stroke-dasharray="6,4"/>
<circle cx="1474.5" cy="887.5" r="26" fill="#fff" stroke="#0b72bd" stroke-width="4.2"/>
<path d="M1463,877.2 L1486.5,893.7" stroke="#0b72bd" stroke-width="6" stroke-linecap="round"/>
<path d="M1464.7,899.3 L1468.7,893.5" stroke="#0b72bd" stroke-width="3.6" stroke-linecap="round"/>
<circle cx="1458" cy="918.2" r="2.6"/><circle cx="1490.5" cy="918.2" r="2.6"/>
<text x="1455" y="934" font-size="13" font-weight="bold" text-anchor="start" fill="#000" >0</text>
<text x="1467" y="934" font-size="13" font-weight="bold" text-anchor="start" fill="#000" textLength="15" lengthAdjust="spacingAndGlyphs" >dB</text>
<text x="1486" y="934" font-size="13" font-weight="bold" text-anchor="start" fill="#000" textLength="13.5" lengthAdjust="spacingAndGlyphs" >12</text>
<text x="1548.75" y="751" font-size="14" font-weight="bold" text-anchor="middle" fill="#000" textLength="78.5" lengthAdjust="spacingAndGlyphs" >MONO (IN L)</text>
<circle cx="1548.75" cy="786.25" r="25.8" fill="#fff" stroke="#e5530f" stroke-width="4.5"/>
<text x="1549.75" y="801.25" font-size="42" font-weight="bold" text-anchor="middle" fill="#000" >2</text>
<text x="1517" y="821" font-size="10.5" font-weight="bold" text-anchor="start" fill="#000" textLength="13" lengthAdjust="spacingAndGlyphs" >ON</text>
<text x="1517" y="831" font-size="10.5" font-weight="bold" text-anchor="start" fill="#000" textLength="18" lengthAdjust="spacingAndGlyphs" >OFF</text>
<rect x="1564" y="815.5" width="8" height="4.5" rx="1.5" fill="#000"/>
<rect x="1561" y="818.1" width="14" height="3" rx="1.3" fill="#000"/>
<rect x="1564" y="823.3" width="8" height="6.5" rx="1.5" fill="#000"/>
<rect x="1561" y="828.3" width="14" height="3.1" rx="1.3" fill="#000"/>
<text x="1548.75" y="854.5" font-size="14" font-weight="bold" text-anchor="middle" fill="#000" textLength="78.5" lengthAdjust="spacingAndGlyphs" >MONO (IN L)</text>
<circle cx="1548.75" cy="889.5" r="25.8" fill="#fff" stroke="#e5530f" stroke-width="4.5"/>
<text x="1549.75" y="904.5" font-size="42" font-weight="bold" text-anchor="middle" fill="#000" >3</text>
<text x="1517" y="924" font-size="10.5" font-weight="bold" text-anchor="start" fill="#000" textLength="13" lengthAdjust="spacingAndGlyphs" >ON</text>
<text x="1517" y="934" font-size="10.5" font-weight="bold" text-anchor="start" fill="#000" textLength="18" lengthAdjust="spacingAndGlyphs" >OFF</text>
<rect x="1564" y="918.5" width="8" height="4.5" rx="1.5" fill="#000"/>
<rect x="1561" y="921.1" width="14" height="3" rx="1.3" fill="#000"/>
<rect x="1564" y="926.3" width="8" height="6.5" rx="1.5" fill="#000"/>
<rect x="1561" y="931.3" width="14" height="3.1" rx="1.3" fill="#000"/>
<text x="1119.5" y="854.5" font-size="14" font-weight="bold" text-anchor="middle" fill="#000" textLength="27" lengthAdjust="spacingAndGlyphs" >IN B</text>
<circle cx="1119" cy="889.5" r="25.8" fill="#fff" stroke="#e5530f" stroke-width="4.5"/>
<text x="1120" y="904.5" font-size="42" font-weight="bold" text-anchor="middle" fill="#000" >1</text>
<text x="1088" y="924" font-size="10.5" font-weight="bold" text-anchor="start" fill="#000" textLength="13" lengthAdjust="spacingAndGlyphs" >ON</text>
<text x="1088" y="934" font-size="10.5" font-weight="bold" text-anchor="start" fill="#000" textLength="18" lengthAdjust="spacingAndGlyphs" >OFF</text>
<rect x="1136" y="918.5" width="8" height="4.5" rx="1.5" fill="#000"/>
<rect x="1133" y="921.1" width="14" height="3" rx="1.3" fill="#000"/>
<rect x="1136" y="926.3" width="8" height="6.5" rx="1.5" fill="#000"/>
<rect x="1133" y="931.3" width="14" height="3.1" rx="1.3" fill="#000"/>
<text x="924.5" y="1330" font-size="19.5" font-weight="bold" text-anchor="start" fill="#000" textLength="59" lengthAdjust="spacingAndGlyphs" >INPUT</text>
<rect x="988.4" y="1315.4" width="4.1" height="20" fill="#000"/>
<text x="995.3" y="1330" font-size="19.5" font-weight="bold" text-anchor="start" fill="#000" textLength="81.7" lengthAdjust="spacingAndGlyphs" >PRE OUT</text>
<text x="888" y="1361.5" font-size="17" font-weight="bold" text-anchor="middle" fill="#000" >+</text>
<text x="888" y="1380.5" font-size="17" font-weight="bold" text-anchor="middle" fill="#000" >-</text>
<g fill="none" stroke="#000" stroke-width="1.5">
<rect x="901.4" y="1340.3" width="135.6" height="51"/>
<path d="M908.1,1343.6 H1030.7 M908.1,1340.3 V1391.3 M1030.7,1340.3 V1391.3 M901.4,1355 H908.1 M901.4,1375 H908.1 M1030.7,1355 H1037 M1030.7,1375 H1037"/>
<path d="M911.7,1351 L915.2,1347.6 H928.9 V1364.5 H911.7 Z"/>
<rect x="918.3" y="1353.5" width="4" height="4"/>
<path d="M911.7,1371 L915.2,1367.5 H928.9 V1391.3 M911.7,1371 V1391.3"/>
<path d="M931.4,1351 L934.9,1347.6 H948.6 V1364.5 H931.4 Z"/>
<rect x="938" y="1353.5" width="4" height="4"/>
<path d="M931.4,1371 L934.9,1367.5 H948.6 V1391.3 M931.4,1371 V1391.3"/>
<path d="M951.1,1351 L954.6,1347.6 H968.3 V1364.5 H951.1 Z"/>
<rect x="957.7" y="1353.5" width="4" height="4"/>
<path d="M951.1,1371 L954.6,1367.5 H968.3 V1391.3 M951.1,1371 V1391.3"/>
<path d="M970.8,1351 L974.3,1347.6 H988 V1364.5 H970.8 Z"/>
<rect x="977.4" y="1353.5" width="4" height="4"/>
<path d="M970.8,1371 L974.3,1367.5 H988 V1391.3 M970.8,1371 V1391.3"/>
<path d="M990.4,1351 L993.9,1347.6 H1007.6 V1364.5 H990.4 Z"/>
<rect x="997" y="1353.5" width="4" height="4"/>
<path d="M990.4,1371 L993.9,1367.5 H1007.6 V1391.3 M990.4,1371 V1391.3"/>
<path d="M1009.8,1351 L1013.3,1347.6 H1027 V1364.5 H1009.8 Z"/>
<rect x="1016.4" y="1353.5" width="4" height="4"/>
<path d="M1009.8,1371 L1013.3,1367.5 H1027 V1391.3 M1009.8,1371 V1391.3"/>
</g>
<rect x="909" y="1376.3" width="15.5" height="42.1" fill="#fff" stroke="#000" stroke-width="1.5"/>
<rect x="929.4" y="1376.3" width="15.5" height="42.1" fill="#fff" stroke="#000" stroke-width="1.5"/>
<rect x="949.5" y="1376.3" width="15.5" height="42.1" fill="#fff" stroke="#000" stroke-width="1.5"/>
<rect x="969.8" y="1376.3" width="15.5" height="42.1" fill="#fff" stroke="#000" stroke-width="1.5"/>
<rect x="989.8" y="1376.3" width="15.5" height="42.1" fill="#fff" stroke="#000" stroke-width="1.5"/>
<rect x="1010.2" y="1376.3" width="15.5" height="42.1" fill="#fff" stroke="#000" stroke-width="1.5"/>
<g fill="#fff" stroke="#000" stroke-width="1.6">
<rect x="903.2" y="1418.4" width="127.5" height="51.9"/>
<path d="M903.2,1463.4 H949.5 V1470.3 M984.7,1470.3 V1463.4 H1030.7" fill="none"/>
</g>
<rect x="897.5" y="1470.3" width="140" height="97" fill="#fff"/>
<path d="M910,1470.3 V1510.6 M923.5,1470.3 V1510.6 M930.4,1470.3 V1510.6 M943.9,1470.3 V1510.6 M950.5,1470.3 V1510.6 M964,1470.3 V1510.6 M970.8,1470.3 V1510.6 M984.3,1470.3 V1510.6 M990.8,1470.3 V1510.6 M1004.3,1470.3 V1510.6 M1011.2,1470.3 V1510.6 M1024.7,1470.3 V1510.6 " stroke="#000" stroke-width="1.5"/>
<path d="M927,1470.3 V1510.6 M947.4,1470.3 V1510.6 M967.5,1470.3 V1510.6 M987.8,1470.3 V1510.6 M1007.8,1470.3 V1510.6 " stroke="#000" stroke-width="1.3"/>
<rect x="900" y="1510.6" width="134" height="53.6" fill="#fff"/>
<rect x="903.2" y="1510.6" width="127.5" height="53.6" rx="2" fill="#fff" stroke="#000" stroke-width="1.6"/>
<rect x="909.95" y="1516" width="14.5" height="42.8" rx="7.25" ry="7.25" fill="none" stroke="#000" stroke-width="1.5"/>
<rect x="930.05" y="1516" width="14.5" height="42.8" rx="7.25" ry="7.25" fill="none" stroke="#000" stroke-width="1.5"/>
<rect x="950.15" y="1516" width="14.5" height="42.8" rx="7.25" ry="7.25" fill="none" stroke="#000" stroke-width="1.5"/>
<rect x="970.25" y="1516" width="14.5" height="42.8" rx="7.25" ry="7.25" fill="none" stroke="#000" stroke-width="1.5"/>
<rect x="990.35" y="1516" width="14.5" height="42.8" rx="7.25" ry="7.25" fill="none" stroke="#000" stroke-width="1.5"/>
<rect x="1010.45" y="1516" width="14.5" height="42.8" rx="7.25" ry="7.25" fill="none" stroke="#000" stroke-width="1.5"/>
<clipPath id="tw1"><rect x="906" y="1564.2" width="24" height="53.2"/></clipPath>
<path d="M910.1,1498.9 L925.9,1551.6 M914.3,1512.9 C911.2,1515.9 909.4,1520.9 910.1,1527.45 M925.9,1523.05 C926.6,1529.4 924.8,1534.6 921.7,1537.6 M910.1,1527.45 L925.9,1580.15 M914.3,1541.45 C911.2,1544.45 909.4,1549.45 910.1,1556 M925.9,1551.6 C926.6,1557.95 924.8,1563.15 921.7,1566.15 M910.1,1556 L925.9,1608.7 M914.3,1570 C911.2,1573 909.4,1578 910.1,1584.55 M925.9,1580.15 C926.6,1586.5 924.8,1591.7 921.7,1594.7 M910.1,1584.55 L925.9,1637.25 M914.3,1598.55 C911.2,1601.55 909.4,1606.55 910.1,1613.1 M925.9,1608.7 C926.6,1615.05 924.8,1620.25 921.7,1623.25 M910.1,1613.1 L925.9,1665.8 M914.3,1627.1 C911.2,1630.1 909.4,1635.1 910.1,1641.65 M925.9,1637.25 C926.6,1643.6 924.8,1648.8 921.7,1651.8 M910.1,1641.65 L925.9,1694.35 M914.3,1655.65 C911.2,1658.65 909.4,1663.65 910.1,1670.2 M925.9,1665.8 C926.6,1672.15 924.8,1677.35 921.7,1680.35 M910.1,1670.2 L925.9,1722.9 M914.3,1684.2 C911.2,1687.2 909.4,1692.2 910.1,1698.75 M925.9,1694.35 C926.6,1700.7 924.8,1705.9 921.7,1708.9 " fill="none" stroke="#000" stroke-width="1.6" clip-path="url(#tw1)"/>
<clipPath id="tw2"><rect x="818.6" y="1633.4" width="24" height="171.6"/></clipPath>
<path d="M822.7,1556 L838.5,1608.7 M826.9,1570 C823.8,1573 822,1578 822.7,1584.55 M838.5,1580.15 C839.2,1586.5 837.4,1591.7 834.3,1594.7 M822.7,1584.55 L838.5,1637.25 M826.9,1598.55 C823.8,1601.55 822,1606.55 822.7,1613.1 M838.5,1608.7 C839.2,1615.05 837.4,1620.25 834.3,1623.25 M822.7,1613.1 L838.5,1665.8 M826.9,1627.1 C823.8,1630.1 822,1635.1 822.7,1641.65 M838.5,1637.25 C839.2,1643.6 837.4,1648.8 834.3,1651.8 M822.7,1641.65 L838.5,1694.35 M826.9,1655.65 C823.8,1658.65 822,1663.65 822.7,1670.2 M838.5,1665.8 C839.2,1672.15 837.4,1677.35 834.3,1680.35 M822.7,1670.2 L838.5,1722.9 M826.9,1684.2 C823.8,1687.2 822,1692.2 822.7,1698.75 M838.5,1694.35 C839.2,1700.7 837.4,1705.9 834.3,1708.9 M822.7,1698.75 L838.5,1751.45 M826.9,1712.75 C823.8,1715.75 822,1720.75 822.7,1727.3 M838.5,1722.9 C839.2,1729.25 837.4,1734.45 834.3,1737.45 M822.7,1727.3 L838.5,1780 M826.9,1741.3 C823.8,1744.3 822,1749.3 822.7,1755.85 M838.5,1751.45 C839.2,1757.8 837.4,1763 834.3,1766 M822.7,1755.85 L838.5,1808.55 M826.9,1769.85 C823.8,1772.85 822,1777.85 822.7,1784.4 M838.5,1780 C839.2,1786.35 837.4,1791.55 834.3,1794.55 M822.7,1784.4 L838.5,1837.1 M826.9,1798.4 C823.8,1801.4 822,1806.4 822.7,1812.95 M838.5,1808.55 C839.2,1814.9 837.4,1820.1 834.3,1823.1 M822.7,1812.95 L838.5,1865.65 M826.9,1826.95 C823.8,1829.95 822,1834.95 822.7,1841.5 M838.5,1837.1 C839.2,1843.45 837.4,1848.65 834.3,1851.65 M822.7,1841.5 L838.5,1894.2 M826.9,1855.5 C823.8,1858.5 822,1863.5 822.7,1870.05 M838.5,1865.65 C839.2,1872 837.4,1877.2 834.3,1880.2 " fill="none" stroke="#000" stroke-width="1.6" clip-path="url(#tw2)"/>
<path d="M918,1614.4 V1616.4 Q918,1625.4 909,1625.4 H839.6 Q830.6,1625.4 830.6,1634.4 V1636.4" fill="none" stroke="#000" stroke-width="10.6" stroke-linejoin="round"/>
<path d="M918,1614.4 V1616.4 Q918,1625.4 909,1625.4 H839.6 Q830.6,1625.4 830.6,1634.4 V1636.4" fill="none" stroke="#fff" stroke-width="7.4" stroke-linejoin="round"/>
<clipPath id="tw3"><rect x="925" y="1564.2" width="24" height="85.4"/></clipPath>
<path d="M929.1,1503.9 L944.9,1556.6 M933.3,1517.9 C930.2,1520.9 928.4,1525.9 929.1,1532.45 M944.9,1528.05 C945.6,1534.4 943.8,1539.6 940.7,1542.6 M929.1,1532.45 L944.9,1585.15 M933.3,1546.45 C930.2,1549.45 928.4,1554.45 929.1,1561 M944.9,1556.6 C945.6,1562.95 943.8,1568.15 940.7,1571.15 M929.1,1561 L944.9,1613.7 M933.3,1575 C930.2,1578 928.4,1583 929.1,1589.55 M944.9,1585.15 C945.6,1591.5 943.8,1596.7 940.7,1599.7 M929.1,1589.55 L944.9,1642.25 M933.3,1603.55 C930.2,1606.55 928.4,1611.55 929.1,1618.1 M944.9,1613.7 C945.6,1620.05 943.8,1625.25 940.7,1628.25 M929.1,1618.1 L944.9,1670.8 M933.3,1632.1 C930.2,1635.1 928.4,1640.1 929.1,1646.65 M944.9,1642.25 C945.6,1648.6 943.8,1653.8 940.7,1656.8 M929.1,1646.65 L944.9,1699.35 M933.3,1660.65 C930.2,1663.65 928.4,1668.65 929.1,1675.2 M944.9,1670.8 C945.6,1677.15 943.8,1682.35 940.7,1685.35 M929.1,1675.2 L944.9,1727.9 M933.3,1689.2 C930.2,1692.2 928.4,1697.2 929.1,1703.75 M944.9,1699.35 C945.6,1705.7 943.8,1710.9 940.7,1713.9 M929.1,1703.75 L944.9,1756.45 M933.3,1717.75 C930.2,1720.75 928.4,1725.75 929.1,1732.3 M944.9,1727.9 C945.6,1734.25 943.8,1739.45 940.7,1742.45 " fill="none" stroke="#000" stroke-width="1.6" clip-path="url(#tw3)"/>
<clipPath id="tw4"><rect x="863" y="1665.6" width="24" height="139.4"/></clipPath>
<path d="M867.1,1589.55 L882.9,1642.25 M871.3,1603.55 C868.2,1606.55 866.4,1611.55 867.1,1618.1 M882.9,1613.7 C883.6,1620.05 881.8,1625.25 878.7,1628.25 M867.1,1618.1 L882.9,1670.8 M871.3,1632.1 C868.2,1635.1 866.4,1640.1 867.1,1646.65 M882.9,1642.25 C883.6,1648.6 881.8,1653.8 878.7,1656.8 M867.1,1646.65 L882.9,1699.35 M871.3,1660.65 C868.2,1663.65 866.4,1668.65 867.1,1675.2 M882.9,1670.8 C883.6,1677.15 881.8,1682.35 878.7,1685.35 M867.1,1675.2 L882.9,1727.9 M871.3,1689.2 C868.2,1692.2 866.4,1697.2 867.1,1703.75 M882.9,1699.35 C883.6,1705.7 881.8,1710.9 878.7,1713.9 M867.1,1703.75 L882.9,1756.45 M871.3,1717.75 C868.2,1720.75 866.4,1725.75 867.1,1732.3 M882.9,1727.9 C883.6,1734.25 881.8,1739.45 878.7,1742.45 M867.1,1732.3 L882.9,1785 M871.3,1746.3 C868.2,1749.3 866.4,1754.3 867.1,1760.85 M882.9,1756.45 C883.6,1762.8 881.8,1768 878.7,1771 M867.1,1760.85 L882.9,1813.55 M871.3,1774.85 C868.2,1777.85 866.4,1782.85 867.1,1789.4 M882.9,1785 C883.6,1791.35 881.8,1796.55 878.7,1799.55 M867.1,1789.4 L882.9,1842.1 M871.3,1803.4 C868.2,1806.4 866.4,1811.4 867.1,1817.95 M882.9,1813.55 C883.6,1819.9 881.8,1825.1 878.7,1828.1 M867.1,1817.95 L882.9,1870.65 M871.3,1831.95 C868.2,1834.95 866.4,1839.95 867.1,1846.5 M882.9,1842.1 C883.6,1848.45 881.8,1853.65 878.7,1856.65 M867.1,1846.5 L882.9,1899.2 M871.3,1860.5 C868.2,1863.5 866.4,1868.5 867.1,1875.05 M882.9,1870.65 C883.6,1877 881.8,1882.2 878.7,1885.2 " fill="none" stroke="#000" stroke-width="1.6" clip-path="url(#tw4)"/>
<path d="M937,1646.6 V1648.6 Q937,1657.6 928,1657.6 H884 Q875,1657.6 875,1666.6 V1668.6" fill="none" stroke="#000" stroke-width="10.6" stroke-linejoin="round"/>
<path d="M937,1646.6 V1648.6 Q937,1657.6 928,1657.6 H884 Q875,1657.6 875,1666.6 V1668.6" fill="none" stroke="#fff" stroke-width="7.4" stroke-linejoin="round"/>
<clipPath id="tw5"><rect x="944" y="1564.2" width="24" height="146.7"/></clipPath>
<path d="M948.1,1480.35 L963.9,1533.05 M952.3,1494.35 C949.2,1497.35 947.4,1502.35 948.1,1508.9 M963.9,1504.5 C964.6,1510.85 962.8,1516.05 959.7,1519.05 M948.1,1508.9 L963.9,1561.6 M952.3,1522.9 C949.2,1525.9 947.4,1530.9 948.1,1537.45 M963.9,1533.05 C964.6,1539.4 962.8,1544.6 959.7,1547.6 M948.1,1537.45 L963.9,1590.15 M952.3,1551.45 C949.2,1554.45 947.4,1559.45 948.1,1566 M963.9,1561.6 C964.6,1567.95 962.8,1573.15 959.7,1576.15 M948.1,1566 L963.9,1618.7 M952.3,1580 C949.2,1583 947.4,1588 948.1,1594.55 M963.9,1590.15 C964.6,1596.5 962.8,1601.7 959.7,1604.7 M948.1,1594.55 L963.9,1647.25 M952.3,1608.55 C949.2,1611.55 947.4,1616.55 948.1,1623.1 M963.9,1618.7 C964.6,1625.05 962.8,1630.25 959.7,1633.25 M948.1,1623.1 L963.9,1675.8 M952.3,1637.1 C949.2,1640.1 947.4,1645.1 948.1,1651.65 M963.9,1647.25 C964.6,1653.6 962.8,1658.8 959.7,1661.8 M948.1,1651.65 L963.9,1704.35 M952.3,1665.65 C949.2,1668.65 947.4,1673.65 948.1,1680.2 M963.9,1675.8 C964.6,1682.15 962.8,1687.35 959.7,1690.35 M948.1,1680.2 L963.9,1732.9 M952.3,1694.2 C949.2,1697.2 947.4,1702.2 948.1,1708.75 M963.9,1704.35 C964.6,1710.7 962.8,1715.9 959.7,1718.9 M948.1,1708.75 L963.9,1761.45 M952.3,1722.75 C949.2,1725.75 947.4,1730.75 948.1,1737.3 M963.9,1732.9 C964.6,1739.25 962.8,1744.45 959.7,1747.45 M948.1,1737.3 L963.9,1790 M952.3,1751.3 C949.2,1754.3 947.4,1759.3 948.1,1765.85 M963.9,1761.45 C964.6,1767.8 962.8,1773 959.7,1776 M948.1,1765.85 L963.9,1818.55 M952.3,1779.85 C949.2,1782.85 947.4,1787.85 948.1,1794.4 M963.9,1790 C964.6,1796.35 962.8,1801.55 959.7,1804.55 " fill="none" stroke="#000" stroke-width="1.6" clip-path="url(#tw5)"/>
<clipPath id="tw6"><rect x="915" y="1726.9" width="24" height="78.1"/></clipPath>
<path d="M919.1,1651.65 L934.9,1704.35 M923.3,1665.65 C920.2,1668.65 918.4,1673.65 919.1,1680.2 M934.9,1675.8 C935.6,1682.15 933.8,1687.35 930.7,1690.35 M919.1,1680.2 L934.9,1732.9 M923.3,1694.2 C920.2,1697.2 918.4,1702.2 919.1,1708.75 M934.9,1704.35 C935.6,1710.7 933.8,1715.9 930.7,1718.9 M919.1,1708.75 L934.9,1761.45 M923.3,1722.75 C920.2,1725.75 918.4,1730.75 919.1,1737.3 M934.9,1732.9 C935.6,1739.25 933.8,1744.45 930.7,1747.45 M919.1,1737.3 L934.9,1790 M923.3,1751.3 C920.2,1754.3 918.4,1759.3 919.1,1765.85 M934.9,1761.45 C935.6,1767.8 933.8,1773 930.7,1776 M919.1,1765.85 L934.9,1818.55 M923.3,1779.85 C920.2,1782.85 918.4,1787.85 919.1,1794.4 M934.9,1790 C935.6,1796.35 933.8,1801.55 930.7,1804.55 M919.1,1794.4 L934.9,1847.1 M923.3,1808.4 C920.2,1811.4 918.4,1816.4 919.1,1822.95 M934.9,1818.55 C935.6,1824.9 933.8,1830.1 930.7,1833.1 M919.1,1822.95 L934.9,1875.65 M923.3,1836.95 C920.2,1839.95 918.4,1844.95 919.1,1851.5 M934.9,1847.1 C935.6,1853.45 933.8,1858.65 930.7,1861.65 M919.1,1851.5 L934.9,1904.2 M923.3,1865.5 C920.2,1868.5 918.4,1873.5 919.1,1880.05 M934.9,1875.65 C935.6,1882 933.8,1887.2 930.7,1890.2 " fill="none" stroke="#000" stroke-width="1.6" clip-path="url(#tw6)"/>
<path d="M956,1707.9 V1709.9 Q956,1718.9 947,1718.9 H936 Q927,1718.9 927,1727.9 V1729.9" fill="none" stroke="#000" stroke-width="10.6" stroke-linejoin="round"/>
<path d="M956,1707.9 V1709.9 Q956,1718.9 947,1718.9 H936 Q927,1718.9 927,1727.9 V1729.9" fill="none" stroke="#fff" stroke-width="7.4" stroke-linejoin="round"/>
<clipPath id="tw7"><rect x="963.5" y="1564.2" width="24" height="240.8"/></clipPath>
<path d="M967.6,1498.9 L983.4,1551.6 M971.8,1512.9 C968.7,1515.9 966.9,1520.9 967.6,1527.45 M983.4,1523.05 C984.1,1529.4 982.3,1534.6 979.2,1537.6 M967.6,1527.45 L983.4,1580.15 M971.8,1541.45 C968.7,1544.45 966.9,1549.45 967.6,1556 M983.4,1551.6 C984.1,1557.95 982.3,1563.15 979.2,1566.15 M967.6,1556 L983.4,1608.7 M971.8,1570 C968.7,1573 966.9,1578 967.6,1584.55 M983.4,1580.15 C984.1,1586.5 982.3,1591.7 979.2,1594.7 M967.6,1584.55 L983.4,1637.25 M971.8,1598.55 C968.7,1601.55 966.9,1606.55 967.6,1613.1 M983.4,1608.7 C984.1,1615.05 982.3,1620.25 979.2,1623.25 M967.6,1613.1 L983.4,1665.8 M971.8,1627.1 C968.7,1630.1 966.9,1635.1 967.6,1641.65 M983.4,1637.25 C984.1,1643.6 982.3,1648.8 979.2,1651.8 M967.6,1641.65 L983.4,1694.35 M971.8,1655.65 C968.7,1658.65 966.9,1663.65 967.6,1670.2 M983.4,1665.8 C984.1,1672.15 982.3,1677.35 979.2,1680.35 M967.6,1670.2 L983.4,1722.9 M971.8,1684.2 C968.7,1687.2 966.9,1692.2 967.6,1698.75 M983.4,1694.35 C984.1,1700.7 982.3,1705.9 979.2,1708.9 M967.6,1698.75 L983.4,1751.45 M971.8,1712.75 C968.7,1715.75 966.9,1720.75 967.6,1727.3 M983.4,1722.9 C984.1,1729.25 982.3,1734.45 979.2,1737.45 M967.6,1727.3 L983.4,1780 M971.8,1741.3 C968.7,1744.3 966.9,1749.3 967.6,1755.85 M983.4,1751.45 C984.1,1757.8 982.3,1763 979.2,1766 M967.6,1755.85 L983.4,1808.55 M971.8,1769.85 C968.7,1772.85 966.9,1777.85 967.6,1784.4 M983.4,1780 C984.1,1786.35 982.3,1791.55 979.2,1794.55 M967.6,1784.4 L983.4,1837.1 M971.8,1798.4 C968.7,1801.4 966.9,1806.4 967.6,1812.95 M983.4,1808.55 C984.1,1814.9 982.3,1820.1 979.2,1823.1 M967.6,1812.95 L983.4,1865.65 M971.8,1826.95 C968.7,1829.95 966.9,1834.95 967.6,1841.5 M983.4,1837.1 C984.1,1843.45 982.3,1848.65 979.2,1851.65 M967.6,1841.5 L983.4,1894.2 M971.8,1855.5 C968.7,1858.5 966.9,1863.5 967.6,1870.05 M983.4,1865.65 C984.1,1872 982.3,1877.2 979.2,1880.2 " fill="none" stroke="#000" stroke-width="1.6" clip-path="url(#tw7)"/>
<clipPath id="tw8"><rect x="984" y="1564.2" width="24" height="146.7"/></clipPath>
<path d="M988.1,1490.35 L1003.9,1543.05 M992.3,1504.35 C989.2,1507.35 987.4,1512.35 988.1,1518.9 M1003.9,1514.5 C1004.6,1520.85 1002.8,1526.05 999.7,1529.05 M988.1,1518.9 L1003.9,1571.6 M992.3,1532.9 C989.2,1535.9 987.4,1540.9 988.1,1547.45 M1003.9,1543.05 C1004.6,1549.4 1002.8,1554.6 999.7,1557.6 M988.1,1547.45 L1003.9,1600.15 M992.3,1561.45 C989.2,1564.45 987.4,1569.45 988.1,1576 M1003.9,1571.6 C1004.6,1577.95 1002.8,1583.15 999.7,1586.15 M988.1,1576 L1003.9,1628.7 M992.3,1590 C989.2,1593 987.4,1598 988.1,1604.55 M1003.9,1600.15 C1004.6,1606.5 1002.8,1611.7 999.7,1614.7 M988.1,1604.55 L1003.9,1657.25 M992.3,1618.55 C989.2,1621.55 987.4,1626.55 988.1,1633.1 M1003.9,1628.7 C1004.6,1635.05 1002.8,1640.25 999.7,1643.25 M988.1,1633.1 L1003.9,1685.8 M992.3,1647.1 C989.2,1650.1 987.4,1655.1 988.1,1661.65 M1003.9,1657.25 C1004.6,1663.6 1002.8,1668.8 999.7,1671.8 M988.1,1661.65 L1003.9,1714.35 M992.3,1675.65 C989.2,1678.65 987.4,1683.65 988.1,1690.2 M1003.9,1685.8 C1004.6,1692.15 1002.8,1697.35 999.7,1700.35 M988.1,1690.2 L1003.9,1742.9 M992.3,1704.2 C989.2,1707.2 987.4,1712.2 988.1,1718.75 M1003.9,1714.35 C1004.6,1720.7 1002.8,1725.9 999.7,1728.9 M988.1,1718.75 L1003.9,1771.45 M992.3,1732.75 C989.2,1735.75 987.4,1740.75 988.1,1747.3 M1003.9,1742.9 C1004.6,1749.25 1002.8,1754.45 999.7,1757.45 M988.1,1747.3 L1003.9,1800 M992.3,1761.3 C989.2,1764.3 987.4,1769.3 988.1,1775.85 M1003.9,1771.45 C1004.6,1777.8 1002.8,1783 999.7,1786 " fill="none" stroke="#000" stroke-width="1.6" clip-path="url(#tw8)"/>
<clipPath id="tw9"><rect x="1013" y="1726.9" width="24" height="78.1"/></clipPath>
<path d="M1017.1,1661.65 L1032.9,1714.35 M1021.3,1675.65 C1018.2,1678.65 1016.4,1683.65 1017.1,1690.2 M1032.9,1685.8 C1033.6,1692.15 1031.8,1697.35 1028.7,1700.35 M1017.1,1690.2 L1032.9,1742.9 M1021.3,1704.2 C1018.2,1707.2 1016.4,1712.2 1017.1,1718.75 M1032.9,1714.35 C1033.6,1720.7 1031.8,1725.9 1028.7,1728.9 M1017.1,1718.75 L1032.9,1771.45 M1021.3,1732.75 C1018.2,1735.75 1016.4,1740.75 1017.1,1747.3 M1032.9,1742.9 C1033.6,1749.25 1031.8,1754.45 1028.7,1757.45 M1017.1,1747.3 L1032.9,1800 M1021.3,1761.3 C1018.2,1764.3 1016.4,1769.3 1017.1,1775.85 M1032.9,1771.45 C1033.6,1777.8 1031.8,1783 1028.7,1786 M1017.1,1775.85 L1032.9,1828.55 M1021.3,1789.85 C1018.2,1792.85 1016.4,1797.85 1017.1,1804.4 M1032.9,1800 C1033.6,1806.35 1031.8,1811.55 1028.7,1814.55 M1017.1,1804.4 L1032.9,1857.1 M1021.3,1818.4 C1018.2,1821.4 1016.4,1826.4 1017.1,1832.95 M1032.9,1828.55 C1033.6,1834.9 1031.8,1840.1 1028.7,1843.1 M1017.1,1832.95 L1032.9,1885.65 M1021.3,1846.95 C1018.2,1849.95 1016.4,1854.95 1017.1,1861.5 M1032.9,1857.1 C1033.6,1863.45 1031.8,1868.65 1028.7,1871.65 M1017.1,1861.5 L1032.9,1914.2 M1021.3,1875.5 C1018.2,1878.5 1016.4,1883.5 1017.1,1890.05 M1032.9,1885.65 C1033.6,1892 1031.8,1897.2 1028.7,1900.2 " fill="none" stroke="#000" stroke-width="1.6" clip-path="url(#tw9)"/>
<path d="M996,1707.9 V1709.9 Q996,1718.9 1005,1718.9 H1016 Q1025,1718.9 1025,1727.9 V1729.9" fill="none" stroke="#000" stroke-width="10.6" stroke-linejoin="round"/>
<path d="M996,1707.9 V1709.9 Q996,1718.9 1005,1718.9 H1016 Q1025,1718.9 1025,1727.9 V1729.9" fill="none" stroke="#fff" stroke-width="7.4" stroke-linejoin="round"/>
<clipPath id="tw10"><rect x="1003" y="1564.2" width="24" height="112.4"/></clipPath>
<path d="M1007.1,1495.35 L1022.9,1548.05 M1011.3,1509.35 C1008.2,1512.35 1006.4,1517.35 1007.1,1523.9 M1022.9,1519.5 C1023.6,1525.85 1021.8,1531.05 1018.7,1534.05 M1007.1,1523.9 L1022.9,1576.6 M1011.3,1537.9 C1008.2,1540.9 1006.4,1545.9 1007.1,1552.45 M1022.9,1548.05 C1023.6,1554.4 1021.8,1559.6 1018.7,1562.6 M1007.1,1552.45 L1022.9,1605.15 M1011.3,1566.45 C1008.2,1569.45 1006.4,1574.45 1007.1,1581 M1022.9,1576.6 C1023.6,1582.95 1021.8,1588.15 1018.7,1591.15 M1007.1,1581 L1022.9,1633.7 M1011.3,1595 C1008.2,1598 1006.4,1603 1007.1,1609.55 M1022.9,1605.15 C1023.6,1611.5 1021.8,1616.7 1018.7,1619.7 M1007.1,1609.55 L1022.9,1662.25 M1011.3,1623.55 C1008.2,1626.55 1006.4,1631.55 1007.1,1638.1 M1022.9,1633.7 C1023.6,1640.05 1021.8,1645.25 1018.7,1648.25 M1007.1,1638.1 L1022.9,1690.8 M1011.3,1652.1 C1008.2,1655.1 1006.4,1660.1 1007.1,1666.65 M1022.9,1662.25 C1023.6,1668.6 1021.8,1673.8 1018.7,1676.8 M1007.1,1666.65 L1022.9,1719.35 M1011.3,1680.65 C1008.2,1683.65 1006.4,1688.65 1007.1,1695.2 M1022.9,1690.8 C1023.6,1697.15 1021.8,1702.35 1018.7,1705.35 M1007.1,1695.2 L1022.9,1747.9 M1011.3,1709.2 C1008.2,1712.2 1006.4,1717.2 1007.1,1723.75 M1022.9,1719.35 C1023.6,1725.7 1021.8,1730.9 1018.7,1733.9 M1007.1,1723.75 L1022.9,1776.45 M1011.3,1737.75 C1008.2,1740.75 1006.4,1745.75 1007.1,1752.3 M1022.9,1747.9 C1023.6,1754.25 1021.8,1759.45 1018.7,1762.45 " fill="none" stroke="#000" stroke-width="1.6" clip-path="url(#tw10)"/>
<clipPath id="tw11"><rect x="1061.6" y="1692.6" width="24" height="112.4"/></clipPath>
<path d="M1065.7,1609.55 L1081.5,1662.25 M1069.9,1623.55 C1066.8,1626.55 1065,1631.55 1065.7,1638.1 M1081.5,1633.7 C1082.2,1640.05 1080.4,1645.25 1077.3,1648.25 M1065.7,1638.1 L1081.5,1690.8 M1069.9,1652.1 C1066.8,1655.1 1065,1660.1 1065.7,1666.65 M1081.5,1662.25 C1082.2,1668.6 1080.4,1673.8 1077.3,1676.8 M1065.7,1666.65 L1081.5,1719.35 M1069.9,1680.65 C1066.8,1683.65 1065,1688.65 1065.7,1695.2 M1081.5,1690.8 C1082.2,1697.15 1080.4,1702.35 1077.3,1705.35 M1065.7,1695.2 L1081.5,1747.9 M1069.9,1709.2 C1066.8,1712.2 1065,1717.2 1065.7,1723.75 M1081.5,1719.35 C1082.2,1725.7 1080.4,1730.9 1077.3,1733.9 M1065.7,1723.75 L1081.5,1776.45 M1069.9,1737.75 C1066.8,1740.75 1065,1745.75 1065.7,1752.3 M1081.5,1747.9 C1082.2,1754.25 1080.4,1759.45 1077.3,1762.45 M1065.7,1752.3 L1081.5,1805 M1069.9,1766.3 C1066.8,1769.3 1065,1774.3 1065.7,1780.85 M1081.5,1776.45 C1082.2,1782.8 1080.4,1788 1077.3,1791 M1065.7,1780.85 L1081.5,1833.55 M1069.9,1794.85 C1066.8,1797.85 1065,1802.85 1065.7,1809.4 M1081.5,1805 C1082.2,1811.35 1080.4,1816.55 1077.3,1819.55 M1065.7,1809.4 L1081.5,1862.1 M1069.9,1823.4 C1066.8,1826.4 1065,1831.4 1065.7,1837.95 M1081.5,1833.55 C1082.2,1839.9 1080.4,1845.1 1077.3,1848.1 M1065.7,1837.95 L1081.5,1890.65 M1069.9,1851.95 C1066.8,1854.95 1065,1859.95 1065.7,1866.5 M1081.5,1862.1 C1082.2,1868.45 1080.4,1873.65 1077.3,1876.65 " fill="none" stroke="#000" stroke-width="1.6" clip-path="url(#tw11)"/>
<path d="M1015,1673.6 V1675.6 Q1015,1684.6 1024,1684.6 H1064.6 Q1073.6,1684.6 1073.6,1693.6 V1695.6" fill="none" stroke="#000" stroke-width="10.6" stroke-linejoin="round"/>
<path d="M1015,1673.6 V1675.6 Q1015,1684.6 1024,1684.6 H1064.6 Q1073.6,1684.6 1073.6,1693.6 V1695.6" fill="none" stroke="#fff" stroke-width="7.4" stroke-linejoin="round"/>
<rect x="820.4" y="1805" width="20.4" height="71.7" rx="2.5" fill="#000"/>
<text transform="translate(823,1841) rotate(90)" x="0" y="0" font-size="21" font-weight="bold" fill="#fff" text-anchor="middle" textLength="48" lengthAdjust="spacingAndGlyphs">IN AL</text>
<clipPath id="tw12"><rect x="818.6" y="1876.7" width="24" height="41.2"/></clipPath>
<path d="M822.7,1808.9 L838.5,1861.6 M826.9,1822.9 C823.8,1825.9 822,1830.9 822.7,1837.45 M838.5,1833.05 C839.2,1839.4 837.4,1844.6 834.3,1847.6 M822.7,1837.45 L838.5,1890.15 M826.9,1851.45 C823.8,1854.45 822,1859.45 822.7,1866 M838.5,1861.6 C839.2,1867.95 837.4,1873.15 834.3,1876.15 M822.7,1866 L838.5,1918.7 M826.9,1880 C823.8,1883 822,1888 822.7,1894.55 M838.5,1890.15 C839.2,1896.5 837.4,1901.7 834.3,1904.7 M822.7,1894.55 L838.5,1947.25 M826.9,1908.55 C823.8,1911.55 822,1916.55 822.7,1923.1 M838.5,1918.7 C839.2,1925.05 837.4,1930.25 834.3,1933.25 M822.7,1923.1 L838.5,1975.8 M826.9,1937.1 C823.8,1940.1 822,1945.1 822.7,1951.65 M838.5,1947.25 C839.2,1953.6 837.4,1958.8 834.3,1961.8 M822.7,1951.65 L838.5,2004.35 M826.9,1965.65 C823.8,1968.65 822,1973.65 822.7,1980.2 M838.5,1975.8 C839.2,1982.15 837.4,1987.35 834.3,1990.35 " fill="none" stroke="#000" stroke-width="1.6" clip-path="url(#tw12)"/>
<rect x="864.8" y="1805" width="20.4" height="71.7" rx="2.5" fill="#000"/>
<text transform="translate(867.4,1841) rotate(90)" x="0" y="0" font-size="21" font-weight="bold" fill="#fff" text-anchor="middle" textLength="48" lengthAdjust="spacingAndGlyphs">IN AR</text>
<clipPath id="tw13"><rect x="863" y="1876.7" width="24" height="41.2"/></clipPath>
<path d="M867.1,1808.9 L882.9,1861.6 M871.3,1822.9 C868.2,1825.9 866.4,1830.9 867.1,1837.45 M882.9,1833.05 C883.6,1839.4 881.8,1844.6 878.7,1847.6 M867.1,1837.45 L882.9,1890.15 M871.3,1851.45 C868.2,1854.45 866.4,1859.45 867.1,1866 M882.9,1861.6 C883.6,1867.95 881.8,1873.15 878.7,1876.15 M867.1,1866 L882.9,1918.7 M871.3,1880 C868.2,1883 866.4,1888 867.1,1894.55 M882.9,1890.15 C883.6,1896.5 881.8,1901.7 878.7,1904.7 M867.1,1894.55 L882.9,1947.25 M871.3,1908.55 C868.2,1911.55 866.4,1916.55 867.1,1923.1 M882.9,1918.7 C883.6,1925.05 881.8,1930.25 878.7,1933.25 M867.1,1923.1 L882.9,1975.8 M871.3,1937.1 C868.2,1940.1 866.4,1945.1 867.1,1951.65 M882.9,1947.25 C883.6,1953.6 881.8,1958.8 878.7,1961.8 M867.1,1951.65 L882.9,2004.35 M871.3,1965.65 C868.2,1968.65 866.4,1973.65 867.1,1980.2 M882.9,1975.8 C883.6,1982.15 881.8,1987.35 878.7,1990.35 " fill="none" stroke="#000" stroke-width="1.6" clip-path="url(#tw13)"/>
<rect x="916.8" y="1805" width="20.4" height="71.7" rx="2.5" fill="#000"/>
<text transform="translate(919.4,1841) rotate(90)" x="0" y="0" font-size="21" font-weight="bold" fill="#fff" text-anchor="middle" textLength="48" lengthAdjust="spacingAndGlyphs">IN BL</text>
<clipPath id="tw14"><rect x="915" y="1876.7" width="24" height="41.2"/></clipPath>
<path d="M919.1,1808.9 L934.9,1861.6 M923.3,1822.9 C920.2,1825.9 918.4,1830.9 919.1,1837.45 M934.9,1833.05 C935.6,1839.4 933.8,1844.6 930.7,1847.6 M919.1,1837.45 L934.9,1890.15 M923.3,1851.45 C920.2,1854.45 918.4,1859.45 919.1,1866 M934.9,1861.6 C935.6,1867.95 933.8,1873.15 930.7,1876.15 M919.1,1866 L934.9,1918.7 M923.3,1880 C920.2,1883 918.4,1888 919.1,1894.55 M934.9,1890.15 C935.6,1896.5 933.8,1901.7 930.7,1904.7 M919.1,1894.55 L934.9,1947.25 M923.3,1908.55 C920.2,1911.55 918.4,1916.55 919.1,1923.1 M934.9,1918.7 C935.6,1925.05 933.8,1930.25 930.7,1933.25 M919.1,1923.1 L934.9,1975.8 M923.3,1937.1 C920.2,1940.1 918.4,1945.1 919.1,1951.65 M934.9,1947.25 C935.6,1953.6 933.8,1958.8 930.7,1961.8 M919.1,1951.65 L934.9,2004.35 M923.3,1965.65 C920.2,1968.65 918.4,1973.65 919.1,1980.2 M934.9,1975.8 C935.6,1982.15 933.8,1987.35 930.7,1990.35 " fill="none" stroke="#000" stroke-width="1.6" clip-path="url(#tw14)"/>
<rect x="965.3" y="1805" width="20.4" height="71.7" rx="2.5" fill="#000"/>
<text transform="translate(967.9,1841) rotate(90)" x="0" y="0" font-size="21" font-weight="bold" fill="#fff" text-anchor="middle" textLength="48" lengthAdjust="spacingAndGlyphs">IN BR</text>
<clipPath id="tw15"><rect x="963.5" y="1876.7" width="24" height="41.2"/></clipPath>
<path d="M967.6,1808.9 L983.4,1861.6 M971.8,1822.9 C968.7,1825.9 966.9,1830.9 967.6,1837.45 M983.4,1833.05 C984.1,1839.4 982.3,1844.6 979.2,1847.6 M967.6,1837.45 L983.4,1890.15 M971.8,1851.45 C968.7,1854.45 966.9,1859.45 967.6,1866 M983.4,1861.6 C984.1,1867.95 982.3,1873.15 979.2,1876.15 M967.6,1866 L983.4,1918.7 M971.8,1880 C968.7,1883 966.9,1888 967.6,1894.55 M983.4,1890.15 C984.1,1896.5 982.3,1901.7 979.2,1904.7 M967.6,1894.55 L983.4,1947.25 M971.8,1908.55 C968.7,1911.55 966.9,1916.55 967.6,1923.1 M983.4,1918.7 C984.1,1925.05 982.3,1930.25 979.2,1933.25 M967.6,1923.1 L983.4,1975.8 M971.8,1937.1 C968.7,1940.1 966.9,1945.1 967.6,1951.65 M983.4,1947.25 C984.1,1953.6 982.3,1958.8 979.2,1961.8 M967.6,1951.65 L983.4,2004.35 M971.8,1965.65 C968.7,1968.65 966.9,1973.65 967.6,1980.2 M983.4,1975.8 C984.1,1982.15 982.3,1987.35 979.2,1990.35 " fill="none" stroke="#000" stroke-width="1.6" clip-path="url(#tw15)"/>
<rect x="1014.8" y="1805" width="20.4" height="71.7" rx="2.5" fill="#000"/>
<text transform="translate(1017.4,1841) rotate(90)" x="0" y="0" font-size="21" font-weight="bold" fill="#fff" text-anchor="middle" textLength="53" lengthAdjust="spacingAndGlyphs">OUT L</text>
<clipPath id="tw16"><rect x="1013" y="1876.7" width="24" height="41.2"/></clipPath>
<path d="M1017.1,1808.9 L1032.9,1861.6 M1021.3,1822.9 C1018.2,1825.9 1016.4,1830.9 1017.1,1837.45 M1032.9,1833.05 C1033.6,1839.4 1031.8,1844.6 1028.7,1847.6 M1017.1,1837.45 L1032.9,1890.15 M1021.3,1851.45 C1018.2,1854.45 1016.4,1859.45 1017.1,1866 M1032.9,1861.6 C1033.6,1867.95 1031.8,1873.15 1028.7,1876.15 M1017.1,1866 L1032.9,1918.7 M1021.3,1880 C1018.2,1883 1016.4,1888 1017.1,1894.55 M1032.9,1890.15 C1033.6,1896.5 1031.8,1901.7 1028.7,1904.7 M1017.1,1894.55 L1032.9,1947.25 M1021.3,1908.55 C1018.2,1911.55 1016.4,1916.55 1017.1,1923.1 M1032.9,1918.7 C1033.6,1925.05 1031.8,1930.25 1028.7,1933.25 M1017.1,1923.1 L1032.9,1975.8 M1021.3,1937.1 C1018.2,1940.1 1016.4,1945.1 1017.1,1951.65 M1032.9,1947.25 C1033.6,1953.6 1031.8,1958.8 1028.7,1961.8 M1017.1,1951.65 L1032.9,2004.35 M1021.3,1965.65 C1018.2,1968.65 1016.4,1973.65 1017.1,1980.2 M1032.9,1975.8 C1033.6,1982.15 1031.8,1987.35 1028.7,1990.35 " fill="none" stroke="#000" stroke-width="1.6" clip-path="url(#tw16)"/>
<rect x="1063.4" y="1805" width="20.4" height="71.7" rx="2.5" fill="#000"/>
<text transform="translate(1066,1841) rotate(90)" x="0" y="0" font-size="21" font-weight="bold" fill="#fff" text-anchor="middle" textLength="53" lengthAdjust="spacingAndGlyphs">OUT R</text>
<clipPath id="tw17"><rect x="1061.6" y="1876.7" width="24" height="41.2"/></clipPath>
<path d="M1065.7,1808.9 L1081.5,1861.6 M1069.9,1822.9 C1066.8,1825.9 1065,1830.9 1065.7,1837.45 M1081.5,1833.05 C1082.2,1839.4 1080.4,1844.6 1077.3,1847.6 M1065.7,1837.45 L1081.5,1890.15 M1069.9,1851.45 C1066.8,1854.45 1065,1859.45 1065.7,1866 M1081.5,1861.6 C1082.2,1867.95 1080.4,1873.15 1077.3,1876.15 M1065.7,1866 L1081.5,1918.7 M1069.9,1880 C1066.8,1883 1065,1888 1065.7,1894.55 M1081.5,1890.15 C1082.2,1896.5 1080.4,1901.7 1077.3,1904.7 M1065.7,1894.55 L1081.5,1947.25 M1069.9,1908.55 C1066.8,1911.55 1065,1916.55 1065.7,1923.1 M1081.5,1918.7 C1082.2,1925.05 1080.4,1930.25 1077.3,1933.25 M1065.7,1923.1 L1081.5,1975.8 M1069.9,1937.1 C1066.8,1940.1 1065,1945.1 1065.7,1951.65 M1081.5,1947.25 C1082.2,1953.6 1080.4,1958.8 1077.3,1961.8 M1065.7,1951.65 L1081.5,2004.35 M1069.9,1965.65 C1066.8,1968.65 1065,1973.65 1065.7,1980.2 M1081.5,1975.8 C1082.2,1982.15 1080.4,1987.35 1077.3,1990.35 " fill="none" stroke="#000" stroke-width="1.6" clip-path="url(#tw17)"/>
<g transform="translate(830.6,0)" fill="#fff" stroke="#000" stroke-width="1.6" stroke-linejoin="round">
<path d="M-8.1,1951.2 V1920 Q-8.1,1917.9 -6,1917.9 H6 Q8.1,1917.9 8.1,1920 V1951.2 L11.9,1957.3 H-11.9 Z"/>
<path d="M-8.1,1928.4 H8.1 M-8.1,1933.2 H8.1 M-8.1,1937.8 H8.1 M-8.1,1942.6 H8.1 M-8.1,1947 H8.1" fill="none"/>
<rect x="-12.9" y="1964" width="25.8" height="19" rx="1"/>
<rect x="-11.9" y="1957.3" width="23.8" height="31"/>
<rect x="-5.3" y="1963.8" width="10.7" height="18.7"/>
<path d="M-5.3,1970.6 H5.4 M-5.3,1975.7 H5.4" fill="none"/>
<path d="M-8.5,1988.3 V1999.5 Q-8.5,2001.6 -6.4,2001.6 H6.4 Q8.5,2001.6 8.5,1999.5 V1988.3"/>
</g>
<g transform="translate(875,0)" fill="#fff" stroke="#000" stroke-width="1.6" stroke-linejoin="round">
<path d="M-8.1,1951.2 V1920 Q-8.1,1917.9 -6,1917.9 H6 Q8.1,1917.9 8.1,1920 V1951.2 L11.9,1957.3 H-11.9 Z"/>
<path d="M-8.1,1928.4 H8.1 M-8.1,1933.2 H8.1 M-8.1,1937.8 H8.1 M-8.1,1942.6 H8.1 M-8.1,1947 H8.1" fill="none"/>
<rect x="-12.9" y="1964" width="25.8" height="19" rx="1"/>
<rect x="-11.9" y="1957.3" width="23.8" height="31"/>
<rect x="-5.3" y="1963.8" width="10.7" height="18.7"/>
<path d="M-5.3,1970.6 H5.4 M-5.3,1975.7 H5.4" fill="none"/>
<path d="M-8.5,1988.3 V1999.5 Q-8.5,2001.6 -6.4,2001.6 H6.4 Q8.5,2001.6 8.5,1999.5 V1988.3"/>
</g>
<g transform="translate(927,0)" fill="#fff" stroke="#000" stroke-width="1.6" stroke-linejoin="round">
<path d="M-8.1,1951.2 V1920 Q-8.1,1917.9 -6,1917.9 H6 Q8.1,1917.9 8.1,1920 V1951.2 L11.9,1957.3 H-11.9 Z"/>
<path d="M-8.1,1928.4 H8.1 M-8.1,1933.2 H8.1 M-8.1,1937.8 H8.1 M-8.1,1942.6 H8.1 M-8.1,1947 H8.1" fill="none"/>
<rect x="-12.9" y="1964" width="25.8" height="19" rx="1"/>
<rect x="-11.9" y="1957.3" width="23.8" height="31"/>
<rect x="-5.3" y="1963.8" width="10.7" height="18.7"/>
<path d="M-5.3,1970.6 H5.4 M-5.3,1975.7 H5.4" fill="none"/>
<path d="M-8.5,1988.3 V1999.5 Q-8.5,2001.6 -6.4,2001.6 H6.4 Q8.5,2001.6 8.5,1999.5 V1988.3"/>
</g>
<g transform="translate(975.5,0)" fill="#fff" stroke="#000" stroke-width="1.6" stroke-linejoin="round">
<path d="M-8.1,1951.2 V1920 Q-8.1,1917.9 -6,1917.9 H6 Q8.1,1917.9 8.1,1920 V1951.2 L11.9,1957.3 H-11.9 Z"/>
<path d="M-8.1,1928.4 H8.1 M-8.1,1933.2 H8.1 M-8.1,1937.8 H8.1 M-8.1,1942.6 H8.1 M-8.1,1947 H8.1" fill="none"/>
<rect x="-12.9" y="1964" width="25.8" height="19" rx="1"/>
<rect x="-11.9" y="1957.3" width="23.8" height="31"/>
<rect x="-5.3" y="1963.8" width="10.7" height="18.7"/>
<path d="M-5.3,1970.6 H5.4 M-5.3,1975.7 H5.4" fill="none"/>
<path d="M-8.5,1988.3 V1999.5 Q-8.5,2001.6 -6.4,2001.6 H6.4 Q8.5,2001.6 8.5,1999.5 V1988.3"/>
</g>
<g transform="translate(1025,0)" fill="#fff" stroke="#000" stroke-width="1.6" stroke-linejoin="round">
<path d="M-8.1,1951.2 V1920 Q-8.1,1917.9 -6,1917.9 H6 Q8.1,1917.9 8.1,1920 V1951.2 L11.9,1957.3 H-11.9 Z"/>
<path d="M-8.1,1928.4 H8.1 M-8.1,1933.2 H8.1 M-8.1,1937.8 H8.1 M-8.1,1942.6 H8.1 M-8.1,1947 H8.1" fill="none"/>
<rect x="-12.9" y="1964" width="25.8" height="19" rx="1"/>
<rect x="-11.9" y="1957.3" width="23.8" height="31"/>
<rect x="-5.3" y="1963.8" width="10.7" height="18.7"/>
<path d="M-5.3,1970.6 H5.4 M-5.3,1975.7 H5.4" fill="none"/>
<path d="M-8.5,1988.3 V1999.5 Q-8.5,2001.6 -6.4,2001.6 H6.4 Q8.5,2001.6 8.5,1999.5 V1988.3"/>
</g>
<g transform="translate(1073.6,0)" fill="#fff" stroke="#000" stroke-width="1.6" stroke-linejoin="round">
<path d="M-8.1,1951.2 V1920 Q-8.1,1917.9 -6,1917.9 H6 Q8.1,1917.9 8.1,1920 V1951.2 L11.9,1957.3 H-11.9 Z"/>
<path d="M-8.1,1928.4 H8.1 M-8.1,1933.2 H8.1 M-8.1,1937.8 H8.1 M-8.1,1942.6 H8.1 M-8.1,1947 H8.1" fill="none"/>
<rect x="-12.9" y="1964" width="25.8" height="19" rx="1"/>
<rect x="-11.9" y="1957.3" width="23.8" height="31"/>
<rect x="-5.3" y="1963.8" width="10.7" height="18.7"/>
<path d="M-5.3,1970.6 H5.4 M-5.3,1975.7 H5.4" fill="none"/>
<path d="M-8.5,1988.3 V1999.5 Q-8.5,2001.6 -6.4,2001.6 H6.4 Q8.5,2001.6 8.5,1999.5 V1988.3"/>
</g>
<path d="M829.5,2006.3 V2015.8 M829.5,2035.3 V2050.8 M829.5,2070.3 V2079.2 M875,2006.3 V2015.8 M875,2035.3 V2050.8 M875,2070.3 V2079.2 M925.8,2006.3 V2015.8 M925.8,2035.3 V2050.8 M925.8,2070.3 V2079.2 M976.2,2006.3 V2015.8 M976.2,2035.3 V2050.8 M976.2,2070.3 V2079.2 M1025,2006.3 V2015.8 M1025,2035.3 V2050.8 M1025,2070.3 V2079.2 M1073.8,2006.3 V2015.8 M1073.8,2035.3 V2050.8 M1073.8,2070.3 V2079.2 " stroke="#888" stroke-width="3"/>
<g transform="translate(830.6,2084.6)" fill="#fff" stroke="#000" stroke-width="1.6" stroke-linejoin="round">
<path d="M-4.9,23.8 V4.9 A4.9,4.9 0 0 1 4.9,4.9 V23.8"/>
<path d="M-14.7,23.8 H14.7 L18.2,42.5 V67 Q18.2,72 14.7,76 V83.5 L16,86 L10.7,96.4 H-10.7 L-16,86 L-14.7,83.5 V76 Q-18.2,72 -18.2,67 V42.5 Z"/>
<path d="M-18.2,44.5 H18.2 M-18.2,48.5 H18.2 M-18.2,52.5 H18.2 M-18.2,55.5 H18.2 M-18.2,58.5 H18.2 M-18.2,62 H18.2 M-18.2,65.5 H18.2 M-14.7,84 H14.7 M-7.5,26.5 L-8,38 M7.5,26.5 L8,38" fill="none"/>
<path d="M-17.5,68 Q0,86 17.5,68" fill="none" stroke-width="2.2"/>
<path d="M-6,68 L0,73 L-1,69 L6,75" fill="none" stroke="#555" stroke-width="1.3"/>
</g>
<g transform="translate(875,2084.6)" fill="#fff" stroke="#000" stroke-width="1.6" stroke-linejoin="round">
<path d="M-4.9,23.8 V4.9 A4.9,4.9 0 0 1 4.9,4.9 V23.8"/>
<path d="M-14.7,23.8 H14.7 L18.2,42.5 V67 Q18.2,72 14.7,76 V83.5 L16,86 L10.7,96.4 H-10.7 L-16,86 L-14.7,83.5 V76 Q-18.2,72 -18.2,67 V42.5 Z"/>
<path d="M-18.2,44.5 H18.2 M-18.2,48.5 H18.2 M-18.2,52.5 H18.2 M-18.2,55.5 H18.2 M-18.2,58.5 H18.2 M-18.2,62 H18.2 M-18.2,65.5 H18.2 M-14.7,84 H14.7 M-7.5,26.5 L-8,38 M7.5,26.5 L8,38" fill="none"/>
<path d="M-17.5,68 Q0,86 17.5,68" fill="none" stroke-width="2.2"/>
<path d="M-6,68 L0,73 L-1,69 L6,75" fill="none" stroke="#555" stroke-width="1.3"/>
</g>
<g transform="translate(927,2084.6)" fill="#fff" stroke="#000" stroke-width="1.6" stroke-linejoin="round">
<path d="M-4.9,23.8 V4.9 A4.9,4.9 0 0 1 4.9,4.9 V23.8"/>
<path d="M-14.7,23.8 H14.7 L18.2,42.5 V67 Q18.2,72 14.7,76 V83.5 L16,86 L10.7,96.4 H-10.7 L-16,86 L-14.7,83.5 V76 Q-18.2,72 -18.2,67 V42.5 Z"/>
<path d="M-18.2,44.5 H18.2 M-18.2,48.5 H18.2 M-18.2,52.5 H18.2 M-18.2,55.5 H18.2 M-18.2,58.5 H18.2 M-18.2,62 H18.2 M-18.2,65.5 H18.2 M-14.7,84 H14.7 M-7.5,26.5 L-8,38 M7.5,26.5 L8,38" fill="none"/>
<path d="M-17.5,68 Q0,86 17.5,68" fill="none" stroke-width="2.2"/>
<path d="M-6,68 L0,73 L-1,69 L6,75" fill="none" stroke="#555" stroke-width="1.3"/>
</g>
<g transform="translate(975.5,2084.6)" fill="#fff" stroke="#000" stroke-width="1.6" stroke-linejoin="round">
<path d="M-4.9,23.8 V4.9 A4.9,4.9 0 0 1 4.9,4.9 V23.8"/>
<path d="M-14.7,23.8 H14.7 L18.2,42.5 V67 Q18.2,72 14.7,76 V83.5 L16,86 L10.7,96.4 H-10.7 L-16,86 L-14.7,83.5 V76 Q-18.2,72 -18.2,67 V42.5 Z"/>
<path d="M-18.2,44.5 H18.2 M-18.2,48.5 H18.2 M-18.2,52.5 H18.2 M-18.2,55.5 H18.2 M-18.2,58.5 H18.2 M-18.2,62 H18.2 M-18.2,65.5 H18.2 M-14.7,84 H14.7 M-7.5,26.5 L-8,38 M7.5,26.5 L8,38" fill="none"/>
<path d="M-17.5,68 Q0,86 17.5,68" fill="none" stroke-width="2.2"/>
<path d="M-6,68 L0,73 L-1,69 L6,75" fill="none" stroke="#555" stroke-width="1.3"/>
</g>
<g transform="translate(1025,2084.6)" fill="#fff" stroke="#000" stroke-width="1.6" stroke-linejoin="round">
<path d="M-4.9,23.8 V4.9 A4.9,4.9 0 0 1 4.9,4.9 V23.8"/>
<path d="M-14.7,23.8 H14.7 L18.2,42.5 V67 Q18.2,72 14.7,76 V83.5 L16,86 L10.7,96.4 H-10.7 L-16,86 L-14.7,83.5 V76 Q-18.2,72 -18.2,67 V42.5 Z"/>
<path d="M-18.2,44.5 H18.2 M-18.2,48.5 H18.2 M-18.2,52.5 H18.2 M-18.2,55.5 H18.2 M-18.2,58.5 H18.2 M-18.2,62 H18.2 M-18.2,65.5 H18.2 M-14.7,84 H14.7 M-7.5,26.5 L-8,38 M7.5,26.5 L8,38" fill="none"/>
<path d="M-17.5,68 Q0,86 17.5,68" fill="none" stroke-width="2.2"/>
<path d="M-6,68 L0,73 L-1,69 L6,75" fill="none" stroke="#555" stroke-width="1.3"/>
</g>
<g transform="translate(1073.6,2084.6)" fill="#fff" stroke="#000" stroke-width="1.6" stroke-linejoin="round">
<path d="M-4.9,23.8 V4.9 A4.9,4.9 0 0 1 4.9,4.9 V23.8"/>
<path d="M-14.7,23.8 H14.7 L18.2,42.5 V67 Q18.2,72 14.7,76 V83.5 L16,86 L10.7,96.4 H-10.7 L-16,86 L-14.7,83.5 V76 Q-18.2,72 -18.2,67 V42.5 Z"/>
<path d="M-18.2,44.5 H18.2 M-18.2,48.5 H18.2 M-18.2,52.5 H18.2 M-18.2,55.5 H18.2 M-18.2,58.5 H18.2 M-18.2,62 H18.2 M-18.2,65.5 H18.2 M-14.7,84 H14.7 M-7.5,26.5 L-8,38 M7.5,26.5 L8,38" fill="none"/>
<path d="M-17.5,68 Q0,86 17.5,68" fill="none" stroke-width="2.2"/>
<path d="M-6,68 L0,73 L-1,69 L6,75" fill="none" stroke="#555" stroke-width="1.3"/>
</g>
<path d="M1024.6,2181 V2282 M1073.6,2181 V2282" stroke="#0b72bd" stroke-width="8.8"/>
<g transform="translate(1024.3,2376.5) scale(1,-1)" fill="#fff" stroke="#000" stroke-width="1.6" stroke-linejoin="round">
<path d="M-4.9,23.8 V4.9 A4.9,4.9 0 0 1 4.9,4.9 V23.8"/>
<path d="M-14.7,23.8 H14.7 L18.2,42.5 V67 Q18.2,72 14.7,76 V83.5 L16,86 L10.7,96.4 H-10.7 L-16,86 L-14.7,83.5 V76 Q-18.2,72 -18.2,67 V42.5 Z"/>
<path d="M-18.2,44.5 H18.2 M-18.2,48.5 H18.2 M-18.2,52.5 H18.2 M-18.2,55.5 H18.2 M-18.2,58.5 H18.2 M-18.2,62 H18.2 M-18.2,65.5 H18.2 M-14.7,84 H14.7 M-7.5,26.5 L-8,38 M7.5,26.5 L8,38" fill="none"/>
<path d="M-17.5,68 Q0,86 17.5,68" fill="none" stroke-width="2.2"/>
<path d="M-6,68 L0,73 L-1,69 L6,75" fill="none" stroke="#555" stroke-width="1.3"/>
</g>
<g transform="translate(1073.6,2376.5) scale(1,-1)" fill="#fff" stroke="#000" stroke-width="1.6" stroke-linejoin="round">
<path d="M-4.9,23.8 V4.9 A4.9,4.9 0 0 1 4.9,4.9 V23.8"/>
<path d="M-14.7,23.8 H14.7 L18.2,42.5 V67 Q18.2,72 14.7,76 V83.5 L16,86 L10.7,96.4 H-10.7 L-16,86 L-14.7,83.5 V76 Q-18.2,72 -18.2,67 V42.5 Z"/>
<path d="M-18.2,44.5 H18.2 M-18.2,48.5 H18.2 M-18.2,52.5 H18.2 M-18.2,55.5 H18.2 M-18.2,58.5 H18.2 M-18.2,62 H18.2 M-18.2,65.5 H18.2 M-14.7,84 H14.7 M-7.5,26.5 L-8,38 M7.5,26.5 L8,38" fill="none"/>
<path d="M-17.5,68 Q0,86 17.5,68" fill="none" stroke-width="2.2"/>
<path d="M-6,68 L0,73 L-1,69 L6,75" fill="none" stroke="#555" stroke-width="1.3"/>
</g>
<path d="M1023.5,2379 V2416 M1073,2379 V2416" stroke="#0b72bd" stroke-width="3.2" stroke-dasharray="10,8"/>
<path d="M302.1,1940 V2395.8 Q302.1,2419.8 326.1,2419.8 H951.3 Q975.3,2419.8 975.3,2395.8 V2180" fill="none" stroke="#0b72bd" stroke-width="8.8"/>
<path d="M331.5,1940 V2363.4 Q331.5,2387.4 355.5,2387.4 H901.5 Q925.5,2387.4 925.5,2363.4 V2180" fill="none" stroke="#0b72bd" stroke-width="8.8"/>
<path d="M425.2,1940 V2273.4 Q425.2,2297.4 449.2,2297.4 H849.5 Q873.5,2297.4 873.5,2273.4 V2180" fill="none" stroke="#0b72bd" stroke-width="8.8"/>
<path d="M454.5,1940 V2240.6 Q454.5,2264.6 478.5,2264.6 H805.5 Q829.5,2264.6 829.5,2240.6 V2180" fill="none" stroke="#0b72bd" stroke-width="8.8"/>
<text x="276.5" y="1987.5" font-size="27" text-anchor="start" fill="#000" textLength="16.5" lengthAdjust="spacingAndGlyphs" >R</text>
<text x="341.4" y="1987.5" font-size="27" text-anchor="start" fill="#000" textLength="14" lengthAdjust="spacingAndGlyphs" >L</text>
<text x="397" y="1987.5" font-size="27" text-anchor="start" fill="#000" textLength="16.5" lengthAdjust="spacingAndGlyphs" >R</text>
<text x="464" y="1987.5" font-size="27" text-anchor="start" fill="#000" textLength="14" lengthAdjust="spacingAndGlyphs" >L</text>
<text transform="translate(286.2,2348.3) rotate(-90)" x="0" y="0" font-size="29" fill="#000" textLength="116.4" lengthAdjust="spacingAndGlyphs">PRE OUT</text>
<text x="810.2" y="2223.5" font-size="26.7" text-anchor="end" fill="#000" textLength="108.7" lengthAdjust="spacingAndGlyphs" >PRE OUT</text>
<text x="807.7" y="2252.5" font-size="26.7" font-weight="bold" text-anchor="end" fill="#000" textLength="81.9" lengthAdjust="spacingAndGlyphs" >Zone 1</text>
<text x="905.3" y="2350.6" font-size="26.7" text-anchor="end" fill="#000" textLength="109.7" lengthAdjust="spacingAndGlyphs" >PRE OUT</text>
<text x="904.9" y="2379.4" font-size="26.7" font-weight="bold" text-anchor="end" fill="#000" textLength="84" lengthAdjust="spacingAndGlyphs" >Zone 2</text>
<text x="1103" y="2335.6" font-size="27" text-anchor="start" fill="#000" textLength="135.6" lengthAdjust="spacingAndGlyphs" >to external</text>
<text x="1103" y="2371" font-size="27" text-anchor="start" fill="#000" textLength="112.6" lengthAdjust="spacingAndGlyphs" >amplifier</text>
<text x="1103" y="2405.7" font-size="27" text-anchor="start" fill="#000" textLength="195.8" lengthAdjust="spacingAndGlyphs" >(HI-PASS Filter)</text>
<text x="443" y="1634.2" font-size="28" text-anchor="start" fill="#000" textLength="101.8" lengthAdjust="spacingAndGlyphs" >SOURCE</text>
<g fill="#fff" stroke="#000" stroke-width="2">
<rect x="142.3" y="1641.9" width="429.1" height="305.3" rx="50" ry="50"/>
<rect x="171" y="1649.3" width="372.5" height="291.1" rx="36" ry="36"/>
<rect x="180.7" y="1658" width="353.2" height="272.8" rx="28" ry="28"/>
</g>
<g fill="none" stroke="#000" stroke-width="1.8" stroke-linejoin="round">
<path d="M199.3,1723 V1688 Q199.3,1685.4 202,1685.4 H264.8 Q267.5,1685.4 267.5,1688 V1723 Q264,1727 261,1724 Q233.5,1707 206,1724 Q203,1727 199.3,1723 Z"/>
<path d="M202,1722 Q233.5,1704 265,1722" stroke-width="1.3"/>
<path d="M199.3,1822 V1857.5 Q199.3,1860 202,1860 H264.8 Q267.5,1860 267.5,1857.5 V1822 Q264,1818 261,1821 Q233.5,1838 206,1821 Q203,1818 199.3,1822 Z"/>
<path d="M202,1823 Q233.5,1841 265,1823" stroke-width="1.3"/>
<circle cx="233.5" cy="1772.5" r="37.2"/><circle cx="233.5" cy="1772.5" r="27.4"/>
<path d="M194,1750 A45,45 0 0 1 222,1731 M245,1731 A45,45 0 0 1 273,1750 M194,1795 A45,45 0 0 0 222,1814 M245,1814 A45,45 0 0 0 273,1795" stroke-width="1.3"/>
<rect x="199.3" y="1878.5" width="68.2" height="36.9" rx="2.5"/>
<rect x="303" y="1719" width="193.9" height="106"/>
<rect x="305.2" y="1882.6" width="40.6" height="32.8" rx="2.5"/>
<rect x="355.4" y="1882.6" width="40.5" height="32.8" rx="2.5"/>
<rect x="405.2" y="1882.6" width="41.1" height="32.8" rx="2.5"/>
<rect x="455.3" y="1882.6" width="41.1" height="32.8" rx="2.5"/>
</g>
<circle cx="233.5" cy="1694" r="3.6" fill="none" stroke="#000" stroke-width="1.1"/><path d="M233.5,1688.5 V1694" stroke="#000" stroke-width="1.1"/>
<text x="233.5" y="1707.3" font-size="8.5" text-anchor="middle" fill="#000" >SRC</text>
<text x="233.5" y="1731" font-size="8.5" text-anchor="middle" fill="#000" >VOL</text>
<text x="233.5" y="1820" font-size="8.5" text-anchor="middle" fill="#000" >SEL</text>
<text x="233.5" y="1902.6" font-size="8.5" text-anchor="middle" fill="#000" textLength="24" lengthAdjust="spacingAndGlyphs" >ZONES</text>
<circle cx="233.5" cy="1846.4" r="4" fill="none" stroke="#000" stroke-width="1.1"/><path d="M233.5,1842.4 A4,4 0 0 1 233.5,1850.4 Z" fill="#000"/>
<path d="M239.5,1846.4 L242,1846.4 M237.74,1850.64 L239.51,1852.41 M233.5,1852.4 L233.5,1854.9 M229.26,1850.64 L227.49,1852.41 M227.5,1846.4 L225,1846.4 M229.26,1842.16 L227.49,1840.39 M233.5,1840.4 L233.5,1837.9 M237.74,1842.16 L239.51,1840.39 " stroke="#000" stroke-width="1"/>
<text x="354" y="1701.8" font-size="17.5" stroke="#000" stroke-width="0.8" text-anchor="start" fill="#000" textLength="86.2" lengthAdjust="spacingAndGlyphs" >HERTZ</text>
<text x="303" y="1842.5" font-size="6.5" font-weight="bold" text-anchor="start" fill="#000" textLength="30" lengthAdjust="spacingAndGlyphs" >Bluetooth</text>
<text x="499" y="1844.5" font-size="10.5" text-anchor="end" fill="#000" textLength="37" lengthAdjust="spacingAndGlyphs" >HMR 20</text>
<path d="M316,1894 L324,1890 V1894 Z M316,1897 H334 M316,1901 H334 M316,1905 H334" stroke="#000" stroke-width="1.8" fill="#000"/>
<path d="M366.5,1893 V1905 M377,1893 L368,1899 L377,1905 Z M385,1893 L377,1899 L385,1905 Z" stroke="#000" stroke-width="1.8" fill="#000"/>
<path d="M419,1893 L428,1899 L419,1905 Z M431,1893 V1905 M434.5,1893 V1905" stroke="#000" stroke-width="1.8" fill="#000"/>
<path d="M465,1893 L473,1899 L465,1905 Z M473,1893 L481,1899 L473,1905 Z M483.5,1893 V1905" stroke="#000" stroke-width="1.8" fill="#000"/>
<text x="1144.6" y="1366" font-size="26" font-weight="bold" text-anchor="middle" fill="#e5530f" >*</text>
<text x="1155.6" y="1390.3" font-size="32" font-weight="bold" text-anchor="start" fill="#000" textLength="96" lengthAdjust="spacingAndGlyphs" >Note 1</text>
<rect x="1122" y="1402.2" width="373.5" height="228" rx="19" ry="19" fill="#fff" stroke="#e5530f" stroke-width="5.4"/>
<text x="1137.7" y="1440.3" font-size="28" font-weight="bold" text-anchor="start" fill="#000" textLength="55.4" lengthAdjust="spacingAndGlyphs" >IN B</text>
<text x="1137.7" y="1483.5" font-size="27" fill="#000" textLength="242" lengthAdjust="spacingAndGlyphs" xml:space="preserve"><tspan>If using </tspan><tspan stroke="#000" stroke-width="0.75">A Ch INPUT</tspan></text>
<text x="1137.7" y="1517.7" font-size="27" text-anchor="start" fill="#000" textLength="144.7" lengthAdjust="spacingAndGlyphs" >only, select:</text>
<path d="M1335,1511.2 V1495.4 Q1335,1492.4 1338,1492.4 H1361.8 Q1364.8,1492.4 1364.8,1495.4 V1511.2 Z" fill="#000"/>
<rect x="1321.7" y="1510.2" width="55.9" height="10.4" rx="3" fill="#000"/>
<circle cx="1437" cy="1490" r="39.3" fill="#fff" stroke="#e5530f" stroke-width="5.4"/>
<text x="1437" y="1502.8" font-size="31" font-weight="bold" text-anchor="middle" fill="#000" textLength="57.4" lengthAdjust="spacingAndGlyphs" >OFF</text>
<text x="1137.7" y="1577.2" font-size="27" fill="#000" textLength="242" lengthAdjust="spacingAndGlyphs" xml:space="preserve"><tspan>If using </tspan><tspan stroke="#000" stroke-width="0.75">B Ch INPUT</tspan></text>
<text x="1137.7" y="1611.4" font-size="27" text-anchor="start" fill="#000" textLength="79.2" lengthAdjust="spacingAndGlyphs" >select:</text>
<path d="M1335,1603.5 V1595 Q1335,1592 1338,1592 H1361.8 Q1364.8,1592 1364.8,1595 V1603.5 Z" fill="#000"/>
<rect x="1321.7" y="1602.5" width="55.9" height="10.5" rx="3" fill="#000"/>
<circle cx="1437" cy="1580.8" r="39.3" fill="#fff" stroke="#e5530f" stroke-width="5.4"/>
<text x="1437" y="1593.6" font-size="31" font-weight="bold" text-anchor="middle" fill="#000" textLength="44.6" lengthAdjust="spacingAndGlyphs" >ON</text>
<text x="1145" y="1677" font-size="26" font-weight="bold" text-anchor="middle" fill="#e5530f" >*</text>
<text x="1156.25" y="1700.75" font-size="32" font-weight="bold" text-anchor="start" fill="#000" textLength="96.75" lengthAdjust="spacingAndGlyphs" >Note 2</text>
<rect x="1122.2" y="1712.2" width="373.35" height="280.1" rx="19" ry="19" fill="#fff" stroke="#e5530f" stroke-width="5.4"/>
<text x="1137.5" y="1753.75" font-size="29" font-weight="bold" text-anchor="start" fill="#000" textLength="235" lengthAdjust="spacingAndGlyphs" >A Ch MONO (IN L)</text>
<text x="1137.5" y="1793" font-size="27" fill="#000" textLength="207" lengthAdjust="spacingAndGlyphs" xml:space="preserve"><tspan>Connect </tspan><tspan stroke="#000" stroke-width="0.75">STEREO</tspan></text>
<text x="1137.5" y="1828.75" font-size="27" text-anchor="start" fill="#000" textLength="146.75" lengthAdjust="spacingAndGlyphs" >signal to AL</text>
<text x="1137.5" y="1863.75" font-size="27" text-anchor="start" fill="#000" textLength="162.5" lengthAdjust="spacingAndGlyphs" >and AR input</text>
<path d="M1335.3,1817 V1800.5 Q1335.3,1797.5 1338.3,1797.5 H1362.1 Q1365.1,1797.5 1365.1,1800.5 V1817 Z" fill="#000"/>
<rect x="1322" y="1816" width="55.9" height="11.5" rx="3" fill="#000"/>
<circle cx="1445.75" cy="1817" r="39.3" fill="#fff" stroke="#e5530f" stroke-width="5.4"/>
<text x="1445.75" y="1829.5" font-size="31" font-weight="bold" text-anchor="middle" fill="#000" textLength="57.4" lengthAdjust="spacingAndGlyphs" >OFF</text>
<text x="1137.5" y="1917" font-size="27" fill="#000" textLength="260.5" lengthAdjust="spacingAndGlyphs" xml:space="preserve"><tspan>Connect </tspan><tspan stroke="#000" stroke-width="0.75">MONO</tspan><tspan> signal</tspan></text>
<text x="1137.5" y="1952.5" font-size="27" text-anchor="start" fill="#000" textLength="137.5" lengthAdjust="spacingAndGlyphs" >to AL input</text>
<path d="M1335.3,1945 V1936.75 Q1335.3,1933.75 1338.3,1933.75 H1362.1 Q1365.1,1933.75 1365.1,1936.75 V1945 Z" fill="#000"/>
<rect x="1322" y="1944" width="55.9" height="9.75" rx="3" fill="#000"/>
<circle cx="1445.75" cy="1936.25" r="39.3" fill="#fff" stroke="#e5530f" stroke-width="5.4"/>
<text x="1445.75" y="1949" font-size="31" font-weight="bold" text-anchor="middle" fill="#000" textLength="44.6" lengthAdjust="spacingAndGlyphs" >ON</text>
<text x="1550" y="1677" font-size="26" font-weight="bold" text-anchor="middle" fill="#e5530f" >*</text>
<text x="1561.25" y="1700.75" font-size="32" font-weight="bold" text-anchor="start" fill="#000" textLength="96.75" lengthAdjust="spacingAndGlyphs" >Note 3</text>
<rect x="1527.2" y="1712.2" width="373.35" height="280.1" rx="19" ry="19" fill="#fff" stroke="#e5530f" stroke-width="5.4"/>
<text x="1542.5" y="1753.75" font-size="29" font-weight="bold" text-anchor="start" fill="#000" textLength="235" lengthAdjust="spacingAndGlyphs" >B Ch MONO (IN L)</text>
<text x="1542.5" y="1793" font-size="27" fill="#000" textLength="207" lengthAdjust="spacingAndGlyphs" xml:space="preserve"><tspan>Connect </tspan><tspan stroke="#000" stroke-width="0.75">STEREO</tspan></text>
<text x="1542.5" y="1828.75" font-size="27" text-anchor="start" fill="#000" textLength="146.75" lengthAdjust="spacingAndGlyphs" >signal to BL</text>
<text x="1542.5" y="1863.75" font-size="27" text-anchor="start" fill="#000" textLength="162.5" lengthAdjust="spacingAndGlyphs" >and BR input</text>
<path d="M1740.3,1817 V1800.5 Q1740.3,1797.5 1743.3,1797.5 H1767.1 Q1770.1,1797.5 1770.1,1800.5 V1817 Z" fill="#000"/>
<rect x="1727" y="1816" width="55.9" height="11.5" rx="3" fill="#000"/>
<circle cx="1850.75" cy="1817" r="39.3" fill="#fff" stroke="#e5530f" stroke-width="5.4"/>
<text x="1850.75" y="1829.5" font-size="31" font-weight="bold" text-anchor="middle" fill="#000" textLength="57.4" lengthAdjust="spacingAndGlyphs" >OFF</text>
<text x="1542.5" y="1917" font-size="27" fill="#000" textLength="260.5" lengthAdjust="spacingAndGlyphs" xml:space="preserve"><tspan>Connect </tspan><tspan stroke="#000" stroke-width="0.75">MONO</tspan><tspan> signal</tspan></text>
<text x="1542.5" y="1952.5" font-size="27" text-anchor="start" fill="#000" textLength="137.5" lengthAdjust="spacingAndGlyphs" >to BL input</text>
<path d="M1740.3,1945 V1936.75 Q1740.3,1933.75 1743.3,1933.75 H1767.1 Q1770.1,1933.75 1770.1,1936.75 V1945 Z" fill="#000"/>
<rect x="1727" y="1944" width="55.9" height="9.75" rx="3" fill="#000"/>
<circle cx="1850.75" cy="1936.25" r="39.3" fill="#fff" stroke="#e5530f" stroke-width="5.4"/>
<text x="1850.75" y="1949" font-size="31" font-weight="bold" text-anchor="middle" fill="#000" textLength="44.6" lengthAdjust="spacingAndGlyphs" >ON</text>
<rect x="411.5" y="2467.5" width="1176.3" height="95.3" fill="none" stroke="#000" stroke-width="3"/>
<path d="M657.9,2467.5 V2562.8 M1125,2467.5 V2562.8" stroke="#000" stroke-width="3"/>
<path d="M423,2484 L474.5,2551.8 M474.5,2484 L423,2551.8" stroke="#e5530f" stroke-width="6.8"/>
<circle cx="475.5" cy="2512" r="1" fill="#777"/><circle cx="475.5" cy="2521" r="1" fill="#777"/>
<circle cx="940.5" cy="2512" r="1" fill="#777"/><circle cx="940.5" cy="2521" r="1" fill="#777"/>
<circle cx="1404" cy="2512" r="1" fill="#777"/><circle cx="1404" cy="2521" r="1" fill="#777"/>
<text x="489.3" y="2510" font-size="30" text-anchor="start" fill="#000" textLength="48.2" lengthAdjust="spacingAndGlyphs" >Not</text>
<text x="489.3" y="2548.2" font-size="30" text-anchor="start" fill="#000" textLength="151.8" lengthAdjust="spacingAndGlyphs" >AVAILABLE</text>
<circle cx="713.6" cy="2515.4" r="36.3" fill="none" stroke="#e5530f" stroke-width="7"/>
<path d="M765,2521.4 H790" stroke="#000" stroke-width="3.2"/>
<rect x="808.1" y="2488.1" width="115.9" height="54.8" fill="none" stroke="#e5530f" stroke-width="7"/>
<text x="947" y="2510" font-size="30" text-anchor="start" fill="#000" textLength="91.4" lengthAdjust="spacingAndGlyphs" >Set-up</text>
<text x="947" y="2548.2" font-size="30" text-anchor="start" fill="#000" textLength="147" lengthAdjust="spacingAndGlyphs" >CONTROLS</text>
<circle cx="1178.6" cy="2515.4" r="36.3" fill="none" stroke="#0b72bd" stroke-width="7"/>
<path d="M1228.6,2521.4 H1253.6" stroke="#000" stroke-width="3.2"/>
<rect x="1273.5" y="2488.1" width="115.9" height="54.8" fill="none" stroke="#0b72bd" stroke-width="7"/>
<text x="1410.7" y="2510" font-size="30" text-anchor="start" fill="#000" textLength="160.7" lengthAdjust="spacingAndGlyphs" >Adjustment</text>
<text x="1410.7" y="2548.2" font-size="30" text-anchor="start" fill="#000" textLength="147.9" lengthAdjust="spacingAndGlyphs" >CONTROLS</text>
</svg></body></html>
